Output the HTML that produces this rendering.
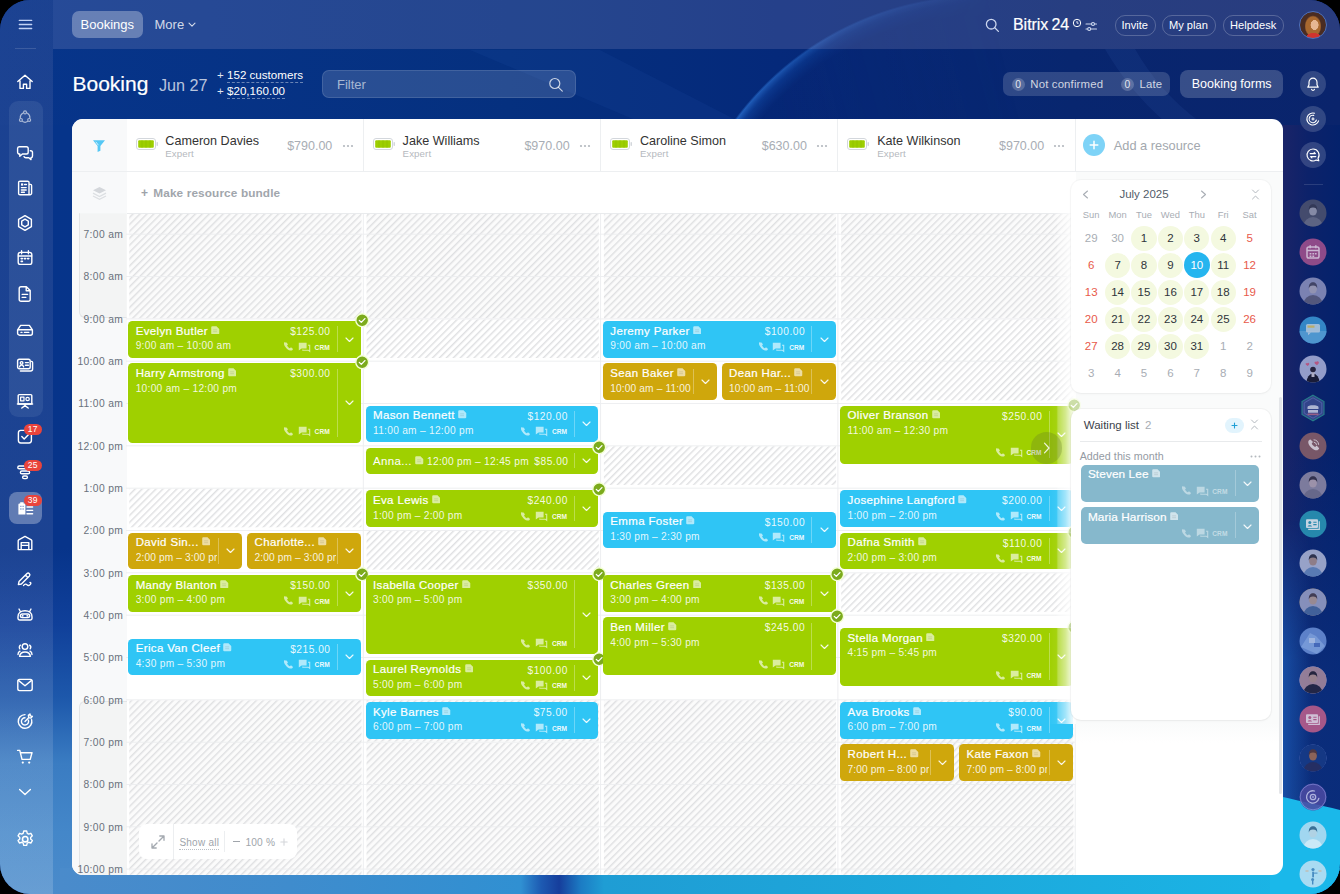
<!DOCTYPE html>
<html><head><meta charset="utf-8"><title>Booking</title>
<style>
html,body{margin:0;padding:0;background:#000;}
body{width:1340px;height:894px;overflow:hidden;position:relative;font-family:"Liberation Sans", sans-serif;}
#win{position:absolute;left:0;top:0;width:1340px;height:894px;border-radius:30px;overflow:hidden;background:#0b3389;}
#win div, #win svg{box-sizing:content-box;}
</style></head><body><div id="win">
<div style="position:absolute;left:0.0px;top:0.0px;width:1340.0px;height:130.0px;background:linear-gradient(90deg,#07358b 0%,#05307f 38%,#05297a 58%,#08266f 80%,#0a246c 100%);border-radius:0px;"></div>
<div style="position:absolute;left:0.0px;top:125.0px;width:80.0px;height:769.0px;background:linear-gradient(180deg,#06348a 0%,#07348a 55%,#10409a 65%,#1d58ab 74.500%,#3a7cc2 83%,#4487c9 92%,#4a8bcb 100%);border-radius:0px;"></div>
<div style="position:absolute;left:1270.0px;top:125.0px;width:70.0px;height:769.0px;background:linear-gradient(90deg,#1a2468 0%,#1a2468 20%,#0c226a 55%,#04226c 100%);border-radius:0px;"></div>
<div style="position:absolute;left:1270.0px;top:125.0px;width:70.0px;height:769.0px;background:linear-gradient(180deg,rgba(11,48,128,0) 0%,rgba(11,48,128,0) 42%,rgba(11,48,128,.75) 75%,rgba(11,48,128,.75) 100%);border-radius:0px;"></div>
<div style="position:absolute;left:60.0px;top:868.0px;width:1280.0px;height:26.0px;background:linear-gradient(90deg,#4a8bcb 0%,#3f8ccd 18%,#3090d2 36%,#1d5ab2 37.600%,#163e9c 39%,#1c7cc4 40.700%,#1f9dd4 42.500%,#1da9dc 70%,#1ab6e7 100%);border-radius:0px;"></div>
<svg style="position:absolute;left:0.0px;top:0.0px;" width="1340" height="894" viewBox="0 0 1340 894" fill="none">
    <defs>
      <radialGradient id="arc" cx="980" cy="300" r="305" gradientUnits="userSpaceOnUse">
        <stop offset="0" stop-color="#0a1f66" stop-opacity=".28"/>
        <stop offset=".93" stop-color="#0a1f66" stop-opacity=".28"/>
        <stop offset=".972" stop-color="#1a58b8" stop-opacity=".4"/>
        <stop offset=".993" stop-color="#2a70d0" stop-opacity=".85"/>
        <stop offset="1" stop-color="#2a70d0" stop-opacity="0"/>
      </radialGradient>
      <linearGradient id="arcfade" x1="700" y1="120" x2="1000" y2="40" gradientUnits="userSpaceOnUse">
        <stop offset="0" stop-color="#fff" stop-opacity="1"/><stop offset=".3" stop-color="#fff" stop-opacity=".7"/><stop offset=".5" stop-color="#fff" stop-opacity=".4"/><stop offset=".8" stop-color="#fff" stop-opacity=".2"/><stop offset="1.15" stop-color="#fff" stop-opacity="0"/>
      </linearGradient>
      <mask id="am"><rect x="0" y="0" width="1340" height="130" fill="url(#arcfade)"/></mask>
      <linearGradient id="rb" x1="1283" y1="0" x2="1312" y2="0" gradientUnits="userSpaceOnUse">
        <stop offset="0" stop-color="#1b5cb6" stop-opacity=".7"/><stop offset="1" stop-color="#1b5cb6" stop-opacity="0"/>
      </linearGradient>
      <linearGradient id="rbv" x1="0" y1="520" x2="0" y2="800" gradientUnits="userSpaceOnUse">
        <stop offset="0" stop-color="#fff" stop-opacity="0"/><stop offset=".5" stop-color="#fff" stop-opacity="1"/><stop offset="1" stop-color="#fff" stop-opacity="1"/>
      </linearGradient>
      <mask id="rm"><rect x="1270" y="500" width="70" height="320" fill="url(#rbv)"/></mask>
    </defs>
    <g mask="url(#am)"><circle cx="980" cy="300" r="305" fill="url(#arc)"/></g>
    <path d="M470 50 L600 50 L740 122 L640 122 Z" fill="#2a5cb5" opacity=".12"/><path d="M1105 49 L1135 49 C1150 75 1170 100 1200 122 L1165 122 C1140 100 1120 75 1105 49Z" fill="#3a62b8" opacity=".13"/>
    <g mask="url(#rm)"><rect x="1283" y="500" width="30" height="320" fill="url(#rb)"/></g>
    <path d="M1270 794 C1295 800 1320 805 1340 810 L1340 894 L1270 894 Z" fill="#1ab8ea"/>
    </svg>
<div style="position:absolute;left:0.0px;top:0.0px;width:53.0px;height:894.0px;background:linear-gradient(180deg,rgba(190,170,200,.115) 0%,rgba(200,190,215,.11) 65%,rgba(255,255,255,.16) 100%);border-radius:0px;"></div>
<svg style="position:absolute;left:18.0px;top:18.0px;" width="16" height="13" viewBox="0 0 16 13" fill="none"><path d="M1.300 2.400h12.400M1.300 6.500h12.400M1.300 10.500h12.400" stroke="#c3d3f5" stroke-width="1.300" stroke-linecap="round"/></svg>
<div style="position:absolute;left:15.0px;top:48.0px;width:21.0px;height:1.0px;background:rgba(255,255,255,.14);border-radius:0px;"></div>
<div style="position:absolute;left:9.0px;top:101.0px;width:33.5px;height:316.0px;background:rgba(255,255,255,.075);border-radius:9px;"></div>
<div style="position:absolute;left:9.0px;top:491.5px;width:33.0px;height:32.0px;background:rgba(255,255,255,.3);border-radius:8px;"></div>
<svg style="position:absolute;left:16.3px;top:72.9px;" width="18" height="18" viewBox="0 0 18 18" fill="none"><path d="M1.8 8.6 9 2.2l7.2 6.4M4 7.4V15.4h3.4v-4.2h3.2v4.2H14V7.4" stroke="#fff" stroke-width="1.4" stroke-linecap="round" stroke-linejoin="round"/></svg>
<svg style="position:absolute;left:16.3px;top:108.3px;" width="18" height="18" viewBox="0 0 18 18" fill="none"><g opacity=".6" transform="translate(1.300 1.300) scale(.86)" stroke="#fff" stroke-width="1.4" stroke-linecap="round" stroke-linejoin="round"><path d="M6.3 4.6A5.6 5.6 0 0 0 3.5 10M11.8 4.5a5.6 5.6 0 0 1 2.8 5.3M6.2 14.3a5.6 5.6 0 0 0 5.6 0"/><circle cx="9" cy="3.6" r="1.7"/><circle cx="4.2" cy="12.4" r="1.7"/><circle cx="13.8" cy="12.4" r="1.7"/></g></svg>
<svg style="position:absolute;left:16.3px;top:143.8px;" width="18" height="18" viewBox="0 0 18 18" fill="none"><path d="M3.2 2.8h7.2a1.8 1.8 0 0 1 1.8 1.8v3.6a1.8 1.8 0 0 1-1.8 1.8H6.4L3.8 12.2V10A1.8 1.8 0 0 1 1.6 8.2V4.6a1.8 1.8 0 0 1 1.6-1.8zM8 12.6c.3.8 1 1.2 1.8 1.2h3l2.2 1.8v-1.9a1.8 1.8 0 0 0 1.5-1.8V8.6a1.8 1.8 0 0 0-1.8-1.8h-.4" stroke="#fff" stroke-width="1.4" stroke-linecap="round" stroke-linejoin="round"/></svg>
<svg style="position:absolute;left:16.3px;top:178.9px;" width="18" height="18" viewBox="0 0 18 18" fill="none"><path d="M4 2.2h7.6a1.4 1.4 0 0 1 1.4 1.4v12.2H4a1.4 1.4 0 0 1-1.4-1.4V3.6A1.4 1.4 0 0 1 4 2.2zM13 5.4h1.6a1 1 0 0 1 1 1v7.9a1.5 1.5 0 0 1-1.5 1.5H13M5.4 8.6h4.8M5.4 11h4.8M5.4 13.2h3" stroke="#fff" stroke-width="1.4" stroke-linecap="round" stroke-linejoin="round"/><rect x="5" y="4.4" width="2.2" height="2.2" fill="#fff"/><path d="M8.6 5.5h1.8" stroke="#fff" stroke-width="1.4" stroke-linecap="round" stroke-linejoin="round"/></svg>
<svg style="position:absolute;left:16.3px;top:214.2px;" width="18" height="18" viewBox="0 0 18 18" fill="none"><path d="M9 1.6l6.4 3.7v7.4L9 16.4l-6.4-3.7V5.3zM9 5.2l3.3 1.9v3.8L9 12.8l-3.3-1.9V7.1z" stroke="#fff" stroke-width="1.4" stroke-linecap="round" stroke-linejoin="round"/></svg>
<svg style="position:absolute;left:16.3px;top:248.9px;" width="18" height="18" viewBox="0 0 18 18" fill="none"><rect x="2.2" y="3.4" width="13.6" height="12" rx="2.2" stroke="#fff" stroke-width="1.4" stroke-linecap="round" stroke-linejoin="round"/><path d="M5.6 1.8v3M12.4 1.8v3M2.4 7h13.2" stroke="#fff" stroke-width="1.4" stroke-linecap="round" stroke-linejoin="round"/><path d="M5.2 9.6h1.2M8.4 9.6h1.2M11.6 9.6h1.2M5.2 12.4h1.2" stroke="#fff" stroke-width="1.6" stroke-linecap="round" stroke-linejoin="round"/></svg>
<svg style="position:absolute;left:16.3px;top:285.4px;" width="18" height="18" viewBox="0 0 18 18" fill="none"><path d="M5 1.8h5.4l3.8 3.8v8.8a1.8 1.8 0 0 1-1.8 1.8H5a1.8 1.8 0 0 1-1.8-1.8V3.6A1.8 1.8 0 0 1 5 1.8zM10.2 2v3.8h3.8M6.2 9.4h5.4M6.2 12.4h3.6" stroke="#fff" stroke-width="1.4" stroke-linecap="round" stroke-linejoin="round"/></svg>
<svg style="position:absolute;left:16.3px;top:321.2px;" width="18" height="18" viewBox="0 0 18 18" fill="none"><path d="M4.6 4.4h8.8l3 4.4v3.4a2 2 0 0 1-2 2H3.6a2 2 0 0 1-2-2V8.8zM1.8 8.8h14.4M5 11.4h1M8.4 11.4h4.4" stroke="#fff" stroke-width="1.4" stroke-linecap="round" stroke-linejoin="round"/></svg>
<svg style="position:absolute;left:16.3px;top:356.4px;" width="18" height="18" viewBox="0 0 18 18" fill="none"><rect x="1.6" y="3.2" width="12.6" height="9.6" rx="1.8" stroke="#fff" stroke-width="1.4" stroke-linecap="round" stroke-linejoin="round"/><path d="M15.4 5.4h.2a1 1 0 0 1 1 1V13a2 2 0 0 1-2 2H4.4" stroke="#fff" stroke-width="1.4" stroke-linecap="round" stroke-linejoin="round"/><circle cx="5.6" cy="6.9" r="1.3" stroke="#fff" stroke-width="1.4" stroke-linecap="round" stroke-linejoin="round"/><path d="M3.6 10.8c.2-1.2 1-1.7 2-1.7s1.8.5 2 1.7M9.4 6.6h3M9.4 9.2h3" stroke="#fff" stroke-width="1.4" stroke-linecap="round" stroke-linejoin="round"/></svg>
<svg style="position:absolute;left:16.3px;top:392.2px;" width="18" height="18" viewBox="0 0 18 18" fill="none"><rect x="2.2" y="2.6" width="13.6" height="9.4" rx="1" stroke="#fff" stroke-width="1.4" stroke-linecap="round" stroke-linejoin="round"/><path d="M1.4 12h15.2M9 12v1.6M5.8 16l3.2-2.4 3.2 2.4" stroke="#fff" stroke-width="1.4" stroke-linecap="round" stroke-linejoin="round"/><rect x="4.6" y="5.2" width="3.4" height="3.6" stroke="#fff" stroke-width="1.2" stroke-linecap="round" stroke-linejoin="round"/><circle cx="11.6" cy="7" r="1.7" stroke="#fff" stroke-width="1.2" stroke-linecap="round" stroke-linejoin="round"/></svg>
<svg style="position:absolute;left:16.3px;top:427.3px;" width="18" height="18" viewBox="0 0 18 18" fill="none"><rect x="2.4" y="3.4" width="13" height="12.6" rx="2.4" stroke="#fff" stroke-width="1.4" stroke-linecap="round" stroke-linejoin="round"/><path d="M5.8 9.6l2.4 2.4 4.4-4.6" stroke="#fff" stroke-width="1.4" stroke-linecap="round" stroke-linejoin="round"/></svg>
<svg style="position:absolute;left:16.3px;top:463.0px;" width="18" height="18" viewBox="0 0 18 18" fill="none"><rect x="1.8" y="3" width="14.4" height="2.8" rx="1.4" stroke="#fff" stroke-width="1.4" stroke-linecap="round" stroke-linejoin="round"/><rect x="4.4" y="8" width="9.2" height="2.8" rx="1.4" stroke="#fff" stroke-width="1.4" stroke-linecap="round" stroke-linejoin="round"/><rect x="6.6" y="13" width="4.8" height="2.6" rx="1.3" stroke="#fff" stroke-width="1.4" stroke-linecap="round" stroke-linejoin="round"/></svg>
<svg style="position:absolute;left:16.3px;top:498.5px;" width="18" height="18" viewBox="0 0 18 18" fill="none"><path d="M2.4 15.6V5.6a1 1 0 0 1 1-1h.8V3.2h3.4v1.4h.8a1 1 0 0 1 1 1v10z" fill="#fff"/><path d="M4.4 7.4h1M6.6 7.4h1M4.4 10h1M6.6 10h1" stroke="#5d7fbf" stroke-width="1.3"/><path d="M11 8h5.6M11 11.4h5.6M11 14.8h5.6" stroke="#fff" stroke-width="1.4" stroke-linecap="round" stroke-linejoin="round"/></svg>
<svg style="position:absolute;left:16.3px;top:534.3px;" width="18" height="18" viewBox="0 0 18 18" fill="none"><path d="M2.2 15.6V6.8a1 1 0 0 1 .5-.9L9 2.4l6.3 3.5a1 1 0 0 1 .5.9v8.8zM5.2 15.4V8.6h7.6v6.8M5.2 11.4h7.6" stroke="#fff" stroke-width="1.4" stroke-linecap="round" stroke-linejoin="round"/></svg>
<svg style="position:absolute;left:16.3px;top:570.3px;" width="18" height="18" viewBox="0 0 18 18" fill="none"><path d="M3 11.6l-.6 3 3-.6 8-8a1.7 1.7 0 0 0-2.4-2.4zM9.6 5.2l2.4 2.4M7.6 15.4c1.4-1.6 2.4-1.6 3.4-.6s2.200 1 3.400-.4c.8-1 .4-2-.4-2" stroke="#fff" stroke-width="1.4" stroke-linecap="round" stroke-linejoin="round"/></svg>
<svg style="position:absolute;left:16.3px;top:605.0px;" width="18" height="18" viewBox="0 0 18 18" fill="none"><path d="M2 11.800c0-3.800 3-6 7-6s7 2.200 7 6v1.400a1.800 1.800 0 0 1-1.800 1.800H3.800A1.800 1.800 0 0 1 2 13.200zM4.600 7l-1.600-3M13.400 7l1.600-3" stroke="#fff" stroke-width="1.4" stroke-linecap="round" stroke-linejoin="round"/><rect x="4.400" y="9" width="9.200" height="3.600" rx="1.800" stroke="#fff" stroke-width="1.4" stroke-linecap="round" stroke-linejoin="round"/><path d="M6.600 10.800h.2M11.200 10.800h.2" stroke="#fff" stroke-width="1.7" stroke-linecap="round" stroke-linejoin="round"/></svg>
<svg style="position:absolute;left:16.3px;top:641.0px;" width="18" height="18" viewBox="0 0 18 18" fill="none"><circle cx="9" cy="5.600" r="2.800" stroke="#fff" stroke-width="1.4" stroke-linecap="round" stroke-linejoin="round"/><path d="M3.600 15.400c.4-3 2.600-4.400 5.400-4.400s5 1.400 5.400 4.400zM4.400 4.200c-1.200.8-1.400 2.400-.6 3.600M2 13.600c0-1.600.8-2.800 2-3.400M13.600 4.200c1.200.8 1.400 2.400.6 3.600M16 13.600c0-1.600-.8-2.800-2-3.400" stroke="#fff" stroke-width="1.4" stroke-linecap="round" stroke-linejoin="round"/></svg>
<svg style="position:absolute;left:16.3px;top:676.1px;" width="18" height="18" viewBox="0 0 18 18" fill="none"><rect x="1.800" y="3.400" width="14.400" height="11.200" rx="1.800" stroke="#fff" stroke-width="1.4" stroke-linecap="round" stroke-linejoin="round"/><path d="M2.400 4.400l6.600 5.400 6.600-5.400" stroke="#fff" stroke-width="1.4" stroke-linecap="round" stroke-linejoin="round"/></svg>
<svg style="position:absolute;left:16.3px;top:711.5px;" width="18" height="18" viewBox="0 0 18 18" fill="none"><path d="M9 2.600a6.800 6.800 0 1 0 6.600 5M9 5.800a3.600 3.600 0 1 0 3.400 2.400M9 9.400l3.600-3.600M12.400 3.400l.4 2.200 2.200.4 1.400-1.600-2-.6-.4-1.800z" stroke="#fff" stroke-width="1.4" stroke-linecap="round" stroke-linejoin="round"/></svg>
<svg style="position:absolute;left:16.3px;top:747.6px;" width="18" height="18" viewBox="0 0 18 18" fill="none"><path d="M1.600 2.400h2.200l2.200 9h8.200l1.800-6.600H4.800" stroke="#fff" stroke-width="1.4" stroke-linecap="round" stroke-linejoin="round"/><circle cx="6.800" cy="14.600" r="1.100" fill="#fff"/><circle cx="13.200" cy="14.600" r="1.100" fill="#fff"/></svg>
<svg style="position:absolute;left:16.3px;top:783.4px;" width="18" height="18" viewBox="0 0 18 18" fill="none"><path d="M3.600 6.600l5.400 5 5.400-5" stroke="#fff" stroke-width="1.4" stroke-linecap="round" stroke-linejoin="round"/></svg>
<svg style="position:absolute;left:15.1px;top:829.2px;" width="20.4" height="20.4" viewBox="0 0 18 18" fill="none"><path stroke-width="1.2" d="M7.700 1.800h2.600l.5 2 1.300.7 1.900-.7 1.300 2.200-1.500 1.400v1.400l1.500 1.400-1.300 2.200-1.900-.7-1.300.7-.5 2H7.700l-.5-2-1.300-.7-1.900.7-1.300-2.200 1.500-1.400V7.400L2.700 6l1.300-2.200 1.900.7 1.300-.7z" stroke="#fff" stroke-width="1.4" stroke-linecap="round" stroke-linejoin="round"/><circle cx="9" cy="9" r="2.400" stroke="#fff" stroke-width="1.4" stroke-linecap="round" stroke-linejoin="round"/></svg>
<div style="position:absolute;left:24px;top:424px;width:17.5px;height:11px;border-radius:6px;background:#e9443c;color:#fff;font-size:8.5px;line-height:11px;text-align:center;font-weight:400;letter-spacing:.2px">17</div>
<div style="position:absolute;left:24px;top:459.5px;width:17.5px;height:11px;border-radius:6px;background:#e9443c;color:#fff;font-size:8.5px;line-height:11px;text-align:center;font-weight:400;letter-spacing:.2px">25</div>
<div style="position:absolute;left:24px;top:494.5px;width:17.5px;height:11px;border-radius:6px;background:#e9443c;color:#fff;font-size:8.5px;line-height:11px;text-align:center;font-weight:400;letter-spacing:.2px">39</div>
<div style="position:absolute;left:53.0px;top:0.0px;width:1287.0px;height:49.0px;background:rgba(222,202,234,.15);border-radius:0px;"></div>
<div style="position:absolute;left:72.0px;top:11.0px;width:70.5px;height:27.0px;background:rgba(255,255,255,.3);border-radius:7px;"></div>
<div style="position:absolute;top:16.2px;line-height:17px;font-size:13px;color:#fff;white-space:nowrap;left:80.5px;">Bookings</div>
<div style="position:absolute;top:16.2px;line-height:17px;font-size:13px;color:rgba(255,255,255,.8);white-space:nowrap;left:154.5px;">More</div>
<svg style="position:absolute;left:187.5px;top:22.0px;" width="8" height="6" viewBox="0 0 8 6" fill="none"><path d="M1 1.200l3 3 3-3" stroke="rgba(255,255,255,.8)" stroke-width="1.100" stroke-linecap="round" stroke-linejoin="round"/></svg>
<svg style="position:absolute;left:985.0px;top:18.0px;" width="15" height="15" viewBox="0 0 15 15" fill="none"><circle cx="6.200" cy="6.200" r="4.800" stroke="#ccd6ee" stroke-width="1.300"/><path d="M9.800 9.800l3.600 3.600" stroke="#ccd6ee" stroke-width="1.300" stroke-linecap="round"/></svg>
<div style="position:absolute;top:14.3px;line-height:21px;font-size:16px;color:#fff;white-space:nowrap;letter-spacing:-0.05px;left:1013.0px;-webkit-text-stroke:.2px #fff;word-spacing:-1.200px;">Bitrix 24</div>
<svg style="position:absolute;left:1071.5px;top:18.0px;" width="10" height="10" viewBox="0 0 10 10" fill="none"><circle cx="5" cy="5" r="3.700" stroke="#fff" stroke-width="1"/><path d="M5 3v2.200h1.600" stroke="#fff" stroke-width=".9"/></svg>
<svg style="position:absolute;left:1085.0px;top:21.0px;" width="13" height="11" viewBox="0 0 13 11" fill="none"><g stroke="#cfd8ee" stroke-width="1.100" stroke-linecap="round"><path d="M1 3h10.500M1 8h10.500"/><circle cx="8" cy="3" r="1.500" fill="#27488f"/><circle cx="4.200" cy="8" r="1.500" fill="#27488f"/></g></svg>
<div style="position:absolute;left:1114.5px;top:14.5px;width:39.5px;height:19.0px;background:transparent;border-radius:10px;border:1px solid rgba(255,255,255,.22);"></div>
<div style="position:absolute;top:17.8px;line-height:14px;font-size:11.1px;color:#fff;white-space:nowrap;left:1121.5px;">Invite</div>
<div style="position:absolute;left:1162.0px;top:14.5px;width:52.0px;height:19.0px;background:transparent;border-radius:10px;border:1px solid rgba(255,255,255,.22);"></div>
<div style="position:absolute;top:17.8px;line-height:14px;font-size:11.1px;color:#fff;white-space:nowrap;left:1169.0px;">My plan</div>
<div style="position:absolute;left:1223.0px;top:14.5px;width:59.0px;height:19.0px;background:transparent;border-radius:10px;border:1px solid rgba(255,255,255,.22);"></div>
<div style="position:absolute;top:17.8px;line-height:14px;font-size:11.1px;color:#fff;white-space:nowrap;left:1230.0px;">Helpdesk</div>
<div style="position:absolute;left:1299px;top:10.500px;width:28px;height:28px;border-radius:50%;box-sizing:border-box;border:1.500px solid #4c72c0;background:radial-gradient(ellipse 7px 4px at 52% 96%,#d0342e 0 95%,transparent 100%),radial-gradient(ellipse 4.200px 5.200px at 56% 50%,#e6b692 0 90%,transparent 100%),radial-gradient(ellipse 8.500px 11px at 50% 55%,#a8682f 0 85%,transparent 100%),#4a2c22;"></div>
<div style="position:absolute;top:69.8px;line-height:28px;font-size:21px;color:#fff;white-space:nowrap;left:72.5px;-webkit-text-stroke:.2px #fff;">Booking</div>
<div style="position:absolute;top:74.0px;line-height:22px;font-size:16.2px;color:rgba(255,255,255,.72);white-space:nowrap;left:159.0px;">Jun 27</div>
<div style="position:absolute;top:67.5px;line-height:15px;font-size:11.5px;color:rgba(255,255,255,.9);white-space:nowrap;left:217.0px;">+</div>
<div style="position:absolute;top:67.5px;line-height:15px;font-size:11.6px;color:#fff;white-space:nowrap;left:227.0px;border-bottom:1px dashed rgba(255,255,255,.4);line-height:14px;top:67.500px;">152 customers</div>
<div style="position:absolute;top:83.8px;line-height:15px;font-size:11.5px;color:rgba(255,255,255,.9);white-space:nowrap;left:217.0px;">+</div>
<div style="position:absolute;top:83.8px;line-height:15px;font-size:11.6px;color:#fff;white-space:nowrap;left:227.0px;border-bottom:1px dashed rgba(255,255,255,.4);line-height:14px;top:83.800px;">$20,160.00</div>
<div style="position:absolute;left:322.0px;top:69.5px;width:253.0px;height:27.5px;background:rgba(255,255,255,.14);border-radius:7px;border:1px solid rgba(255,255,255,.12);box-sizing:border-box;width:254px;height:28.500px;"></div>
<div style="position:absolute;top:75.5px;line-height:17px;font-size:13px;color:rgba(255,255,255,.6);white-space:nowrap;left:337.0px;">Filter</div>
<svg style="position:absolute;left:548.0px;top:77.0px;" width="16" height="16" viewBox="0 0 16 16" fill="none"><circle cx="6.800" cy="6.500" r="5" stroke="rgba(255,255,255,.75)" stroke-width="1.200"/><path d="M10.500 10.300l3.800 3.800" stroke="rgba(255,255,255,.75)" stroke-width="1.200" stroke-linecap="round"/></svg>
<div style="position:absolute;left:1003.0px;top:72.3px;width:167.0px;height:23.6px;background:rgba(255,255,255,.16);border-radius:7px;"></div>
<div style="position:absolute;left:1011.5px;top:77.7px;width:13.0px;height:13.0px;background:rgba(255,255,255,.2);border-radius:7px;"></div>
<div style="position:absolute;top:77.8px;line-height:13px;font-size:10.3px;color:rgba(255,255,255,.85);white-space:nowrap;left:918.0px;width:200px;text-align:center;">0</div>
<div style="position:absolute;top:76.8px;line-height:15px;font-size:11.4px;color:rgba(255,255,255,.78);white-space:nowrap;letter-spacing:0.15px;left:1030.3px;">Not confirmed</div>
<div style="position:absolute;left:1120.8px;top:77.7px;width:13.0px;height:13.0px;background:rgba(255,255,255,.2);border-radius:7px;"></div>
<div style="position:absolute;top:77.8px;line-height:13px;font-size:10.3px;color:rgba(255,255,255,.85);white-space:nowrap;left:1027.3px;width:200px;text-align:center;">0</div>
<div style="position:absolute;top:76.8px;line-height:15px;font-size:11.4px;color:rgba(255,255,255,.78);white-space:nowrap;letter-spacing:0.15px;left:1139.5px;">Late</div>
<div style="position:absolute;left:1180.4px;top:70.0px;width:103.0px;height:28.4px;background:rgba(255,255,255,.19);border-radius:8px;"></div>
<div style="position:absolute;top:76.3px;line-height:16px;font-size:12.5px;color:#fff;white-space:nowrap;left:1191.7px;">Booking forms</div>
<div style="position:absolute;left:1300.1px;top:70.5px;width:26.0px;height:26.0px;background:rgba(255,255,255,.16);border-radius:13px;"></div>
<div style="position:absolute;left:1300.1px;top:106.3px;width:26.0px;height:26.0px;background:rgba(255,255,255,.16);border-radius:13px;"></div>
<div style="position:absolute;left:1300.1px;top:142.1px;width:26.0px;height:26.0px;background:rgba(255,255,255,.16);border-radius:13px;"></div>
<svg style="position:absolute;left:1305.1px;top:75.5px;" width="16" height="16" viewBox="0 0 16 16" fill="none"><path d="M8 2.200a4 4 0 0 1 4 4v2.600l1.200 2.400H2.800L4 8.800V6.200a4 4 0 0 1 4-4zM6.600 13.400a1.500 1.500 0 0 0 2.800 0" stroke="#fff" stroke-width="1.200" stroke-linejoin="round" stroke-linecap="round"/></svg>
<svg style="position:absolute;left:1305.1px;top:111.3px;" width="16" height="16" viewBox="0 0 16 16" fill="none"><g stroke="#fff" stroke-width="1.100" stroke-linecap="round"><path d="M13.600 9.800A6 6 0 1 1 9.600 2.200"/><path d="M11.400 9A3.700 3.700 0 1 1 8.800 4.400"/><path d="M8 6.400l.5 1.100 1.100.5-1.100.5L8 9.600l-.5-1.100-1.100-.5 1.100-.5z" fill="#fff" stroke-width=".4"/></g></svg>
<svg style="position:absolute;left:1305.1px;top:147.1px;" width="16" height="16" viewBox="0 0 16 16" fill="none"><g stroke="#fff" stroke-width="1.150" stroke-linecap="round" stroke-linejoin="round"><path d="M8 2a6 6 0 1 0 3.200 11.100l2.600.7-.8-2.400A6 6 0 0 0 8 2z"/><path d="M5.200 6.600h5.200l-1.300-1.300M10.800 9.600H5.600l1.300 1.300"/></g></svg>
<div style="position:absolute;left:1303.5px;top:183.5px;width:19.0px;height:1.0px;background:rgba(255,255,255,.13);border-radius:0px;"></div>
<svg style="position:absolute;left:1299.1px;top:199.0px;opacity:.86;" width="28" height="28" viewBox="0 0 28 28" fill="none"><clipPath id="cp7"><circle cx="14" cy="14" r="13.5"/></clipPath><g clip-path="url(#cp7)"><rect width="28" height="28" fill="#4d526e"/><ellipse cx="14" cy="27" rx="9.500" ry="9" fill="#6b6f88"/><ellipse cx="14" cy="12" rx="3.900" ry="4.600" fill="#9a9cb0"/><path d="M9.800 11.500c-.3-4.500 2-6.200 4.200-6.200s4.600 1.700 4.200 6.200c-.6-2-1.500-3-4.200-3s-3.600 1-4.200 3z" fill="#3a3d55"/></g></svg>
<svg style="position:absolute;left:1299.1px;top:237.9px;opacity:.86;" width="28" height="28" viewBox="0 0 28 28" fill="none"><circle cx="14" cy="14" r="13.500" fill="#a5528e"/><g stroke="#ecd0e4" stroke-width="1.500" fill="none"><rect x="8" y="9" width="12" height="11" rx="1.800"/><path d="M8 12.600h12M11.200 7.200v3M16.800 7.200v3"/></g><path d="M10.600 15h1.800v1.600h-1.800zM13.400 15h1.800v1.600h-1.800zM16 15h1.600v1.600H16zM10.600 17.400h1.800V19h-1.800zM13.400 17.400h1.800V19h-1.800z" fill="#ecd0e4"/></svg>
<svg style="position:absolute;left:1299.1px;top:276.8px;opacity:.86;" width="28" height="28" viewBox="0 0 28 28" fill="none"><clipPath id="cp7"><circle cx="14" cy="14" r="13.5"/></clipPath><g clip-path="url(#cp7)"><rect width="28" height="28" fill="#8d92be"/><ellipse cx="14" cy="27" rx="9.500" ry="9" fill="#5f6080"/><ellipse cx="14" cy="12" rx="3.900" ry="4.600" fill="#a9a6bd"/><path d="M9.800 11.500c-.3-4.500 2-6.200 4.200-6.200s4.600 1.700 4.200 6.200c-.6-2-1.500-3-4.200-3s-3.600 1-4.200 3z" fill="#4a4a66"/></g></svg>
<svg style="position:absolute;left:1299.1px;top:315.7px;opacity:.86;" width="28" height="28" viewBox="0 0 28 28" fill="none"><circle cx="14" cy="14" r="13.500" fill="#3b97d6"/><clipPath id="c4"><circle cx="14" cy="14" r="13.500"/></clipPath><g clip-path="url(#c4)"><rect x="0" y="15" width="28" height="14" fill="#5aa9e0"/><rect x="7" y="8" width="14" height="8.500" rx="1.500" fill="#cfe0ee" opacity=".85"/><rect x="8.500" y="9.500" width="7" height="2.200" fill="#d8c46a"/><path d="M9 16.500v2.800l3-2.800" fill="#cfe0ee" opacity=".85"/></g></svg>
<svg style="position:absolute;left:1299.1px;top:354.6px;opacity:.86;" width="28" height="28" viewBox="0 0 28 28" fill="none"><circle cx="14" cy="14" r="13.500" fill="#a9b1d9"/><clipPath id="c5"><circle cx="14" cy="14" r="13.500"/></clipPath><g clip-path="url(#c5)"><ellipse cx="14" cy="27.500" rx="6.500" ry="9" fill="#1c1c30"/><rect x="12.500" y="17" width="3" height="5" fill="#c9c4d4"/><circle cx="14" cy="14.500" r="2.800" fill="#2a2438"/><path d="M8 8.500c1-1.500 3-.5 2 1.200L8.700 11 7 9.800c-1-1.500.5-2.500 1-1.300zM17 7c1.200-1.800 3.800-.6 2.600 1.600L18 10.200l-2-1.400c-1.300-1.900.4-3.200 1-1.800z" fill="#d06088"/></g></svg>
<svg style="position:absolute;left:1299.1px;top:393.5px;opacity:.86;" width="28" height="28" viewBox="0 0 28 28" fill="none"><path d="M14 1.200l11 6.400v12.800L14 26.800 3 20.400V7.600z" fill="#3a4a90" stroke="#2b8b8f" stroke-width="1.100"/><path d="M14 3.800l8.800 5.100v10.200L14 24.200l-8.800-5.100V8.900z" fill="none" stroke="#6f86c8" stroke-width=".6"/><path d="M8.500 13c0-2.500 11-2.500 11 0v2h-11zM9 16h10v2.800H9z" fill="#c8cce4"/><rect x="8.500" y="19.500" width="11" height="1.600" fill="#b0688a"/></svg>
<svg style="position:absolute;left:1299.1px;top:432.4px;opacity:.86;" width="28" height="28" viewBox="0 0 28 28" fill="none"><circle cx="14" cy="14" r="13.500" fill="#8a6068"/><path d="M9.800 8.600c-1 .9-.7 3.900 2.300 6.900s6 3.300 6.900 2.300l.9-.9c.3-.3.300-.7 0-1l-1.800-1.800c-.3-.3-.7-.3-1 0l-.9.900c-.9-.3-3.300-2.600-3.500-3.500l.9-.9c.3-.3.300-.7 0-1L11.700 7.800c-.3-.3-.7-.3-1 0z" fill="#eadde0"/><path d="M15 7.800a5 5 0 0 1 4.600 4.600M15.200 10.200a2.700 2.700 0 0 1 2.300 2.300" stroke="#eadde0" stroke-width="1" fill="none" stroke-linecap="round"/></svg>
<svg style="position:absolute;left:1299.1px;top:471.3px;opacity:.86;" width="28" height="28" viewBox="0 0 28 28" fill="none"><clipPath id="cp7"><circle cx="14" cy="14" r="13.5"/></clipPath><g clip-path="url(#cp7)"><rect width="28" height="28" fill="#8f8aa6"/><ellipse cx="14" cy="27" rx="9.500" ry="9" fill="#77748f"/><ellipse cx="14" cy="12" rx="3.900" ry="4.600" fill="#b4a4b4"/><path d="M9.800 11.500c-.3-4.500 2-6.200 4.200-6.200s4.600 1.700 4.200 6.200c-.6-2-1.500-3-4.200-3s-3.600 1-4.200 3z" fill="#3a3448"/></g></svg>
<svg style="position:absolute;left:1299.1px;top:510.2px;opacity:.86;" width="28" height="28" viewBox="0 0 28 28" fill="none"><circle cx="14" cy="14" r="13.500" fill="#2b99b7"/><rect x="7" y="9.200" width="12" height="8.800" rx="1" fill="#e4f2f6"/><path d="M20.300 11.200v8.200H9.200" stroke="#e4f2f6" stroke-width="1.200" fill="none"/><circle cx="10.800" cy="12.600" r="1.500" fill="#2b99b7"/><path d="M8.600 16.600c.3-1.800 4.100-1.800 4.400 0z" fill="#2b99b7"/><path d="M14.300 12.200h3.300M14.300 14.600h3.300" stroke="#2b99b7" stroke-width="1.100"/></svg>
<svg style="position:absolute;left:1299.1px;top:549.1px;opacity:.86;" width="28" height="28" viewBox="0 0 28 28" fill="none"><clipPath id="cp7"><circle cx="14" cy="14" r="13.5"/></clipPath><g clip-path="url(#cp7)"><rect width="28" height="28" fill="#aeb6d6"/><ellipse cx="14" cy="27" rx="9.500" ry="9" fill="#6688be"/><ellipse cx="14" cy="12" rx="3.900" ry="4.600" fill="#a48c8c"/><path d="M9.800 11.500c-.3-4.500 2-6.200 4.200-6.200s4.600 1.700 4.200 6.200c-.6-2-1.500-3-4.200-3s-3.600 1-4.200 3z" fill="#33344a"/></g></svg>
<svg style="position:absolute;left:1299.1px;top:588.0px;opacity:.86;" width="28" height="28" viewBox="0 0 28 28" fill="none"><circle cx="14" cy="14" r="13.500" fill="#25264c"/><circle cx="14" cy="14" r="13.100" fill="none" stroke="#7f7558" stroke-width=".8"/><clipPath id="cp7"><circle cx="14" cy="14" r="11.3"/></clipPath><g clip-path="url(#cp7)"><rect width="28" height="28" fill="#9aa0c6"/><ellipse cx="14" cy="27" rx="9.500" ry="9" fill="#4a6aa0"/><ellipse cx="14" cy="12" rx="3.900" ry="4.600" fill="#b09a98"/><path d="M9.800 11.500c-.3-4.500 2-6.200 4.200-6.200s4.600 1.700 4.200 6.200c-.6-2-1.500-3-4.200-3s-3.600 1-4.200 3z" fill="#4a4050"/></g></svg>
<svg style="position:absolute;left:1299.1px;top:626.9px;opacity:.86;" width="28" height="28" viewBox="0 0 28 28" fill="none"><circle cx="14" cy="14" r="13.500" fill="#6a8fd6"/><clipPath id="c12"><circle cx="14" cy="14" r="13.500"/></clipPath><g clip-path="url(#c12)"><path d="M2 20l9-14 6 3 9 10-8 8z" fill="#8fb0ea" opacity=".8"/><rect x="10" y="11" width="6" height="5" fill="#c4d4f4" opacity=".8"/><rect x="15" y="16" width="6" height="4" fill="#4f74c4"/></g></svg>
<svg style="position:absolute;left:1299.1px;top:665.8px;opacity:.86;" width="28" height="28" viewBox="0 0 28 28" fill="none"><circle cx="14" cy="14" r="13.500" fill="#5f6fbd"/><circle cx="14" cy="14" r="13.100" fill="none" stroke="#8f9fe0" stroke-width=".8"/><clipPath id="cp7"><circle cx="14" cy="14" r="11.3"/></clipPath><g clip-path="url(#cp7)"><rect width="28" height="28" fill="#a98a9c"/><ellipse cx="14" cy="27" rx="9.500" ry="9" fill="#26263f"/><ellipse cx="14" cy="12" rx="3.900" ry="4.600" fill="#b09090"/><path d="M9.800 11.500c-.3-4.500 2-6.200 4.200-6.200s4.600 1.700 4.200 6.200c-.6-2-1.500-3-4.200-3s-3.600 1-4.200 3z" fill="#2a2436"/></g></svg>
<svg style="position:absolute;left:1299.1px;top:704.7px;opacity:.86;" width="28" height="28" viewBox="0 0 28 28" fill="none"><circle cx="14" cy="14" r="13.500" fill="#bf5f8b"/><rect x="7" y="9.200" width="12" height="8.800" rx="1" fill="#f0d8e4"/><path d="M20.300 11.200v8.200H9.200" stroke="#f0d8e4" stroke-width="1.200" fill="none"/><circle cx="10.800" cy="12.600" r="1.500" fill="#bf5f8b"/><path d="M8.600 16.600c.3-1.800 4.100-1.800 4.400 0z" fill="#bf5f8b"/><path d="M14.300 12.200h3.300M14.300 14.600h3.300" stroke="#bf5f8b" stroke-width="1.100"/></svg>
<svg style="position:absolute;left:1299.1px;top:743.6px;opacity:.86;" width="28" height="28" viewBox="0 0 28 28" fill="none"><circle cx="14" cy="14" r="13.500" fill="#2f4898"/><circle cx="14" cy="14" r="13.100" fill="none" stroke="#6f88d0" stroke-width=".8"/><clipPath id="cp7"><circle cx="14" cy="14" r="11.3"/></clipPath><g clip-path="url(#cp7)"><rect width="28" height="28" fill="#173a86"/><ellipse cx="14" cy="27" rx="9.500" ry="9" fill="#2a2f60"/><ellipse cx="14" cy="12" rx="3.900" ry="4.600" fill="#a06c54"/><path d="M9.800 11.500c-.3-4.500 2-6.200 4.200-6.200s4.600 1.700 4.200 6.200c-.6-2-1.500-3-4.200-3s-3.600 1-4.200 3z" fill="#5a3a3a"/></g></svg>
<svg style="position:absolute;left:1299.1px;top:782.5px;opacity:.86;" width="28" height="28" viewBox="0 0 28 28" fill="none"><circle cx="14" cy="14" r="13.500" fill="#4b4aa2"/><circle cx="14" cy="14" r="12.800" fill="none" stroke="#7f7fd0" stroke-width="1"/><g stroke="#c9c9ee" stroke-width="1.300" fill="none" stroke-linecap="round"><path d="M19.800 15.500A6.200 6.200 0 1 1 15.500 8"/><circle cx="14" cy="14" r="2.700"/></g><path d="M14 12.600l.5 1 1 .4-1 .4-.5 1-.5-1-1-.4 1-.4z" fill="#c9c9ee"/></svg>
<svg style="position:absolute;left:1299.1px;top:821.4px;opacity:.95;" width="28" height="28" viewBox="0 0 28 28" fill="none"><clipPath id="cp7"><circle cx="14" cy="14" r="13.5"/></clipPath><g clip-path="url(#cp7)"><rect width="28" height="28" fill="#a9d9f1"/><ellipse cx="14" cy="27" rx="9.500" ry="9" fill="#d4ecf8"/><ellipse cx="14" cy="12" rx="3.900" ry="4.600" fill="#b9d4e4"/><path d="M9.800 11.500c-.3-4.500 2-6.200 4.200-6.200s4.600 1.700 4.200 6.200c-.6-2-1.500-3-4.200-3s-3.600 1-4.200 3z" fill="#3c6c92"/></g></svg>
<svg style="position:absolute;left:1299.1px;top:860.3px;opacity:.95;" width="28" height="28" viewBox="0 0 28 28" fill="none"><circle cx="14" cy="14" r="13.500" fill="#b1ddf3"/><g fill="#4a8ac0"><circle cx="14" cy="9.500" r="1.600"/><rect x="13.200" y="11.500" width="1.800" height="6" rx=".8"/><rect x="14.500" y="12.600" width="4" height="1" /><circle cx="13.600" cy="19.500" r="1.500"/><rect x="13" y="20.500" width="1.400" height="4"/></g><path d="M6.500 11h3M19.500 11h3" stroke="#d8b090" stroke-width="1.200"/></svg>
<div style="position:absolute;left:72.0px;top:119.2px;width:1211.2px;height:755.8px;background:#fff;border-radius:11px;"></div>
<div style="position:absolute;left:72px;top:119.2px;width:54.5px;height:755.8px;background:#f8f9fa;border-radius:11px 0 0 11px"></div>
<div style="position:absolute;left:78.6px;top:207.2px;width:48px;height:110.9px;background:#f3f4f4;border:1px solid #e3e5e7;border-top:none;border-right:none;box-sizing:border-box;border-radius:0 0 0 6px;clip-path:inset(6px 0 0 0)"></div>
<div style="position:absolute;left:78.6px;top:701.0px;width:48px;height:174.0px;background:#f3f4f4;border:1px solid #e3e5e7;border-right:none;border-bottom:none;box-sizing:border-box;border-radius:6px 0 0 5px"></div>
<svg style="position:absolute;left:126px;top:213.2px" width="1157.2" height="661.8" viewBox="0 0 1157.2 661.8"><defs><pattern id="ht" width="4.9" height="4.9" patternUnits="userSpaceOnUse" patternTransform="rotate(-45)"><rect x="0" y="0" width="4.9" height="1.45" fill="#dfe0e2"/></pattern></defs><rect x="3.3" y="0.0" width="232.2" height="105.4" fill="#fbfbfb"/><rect x="3.3" y="0.0" width="232.2" height="105.4" fill="url(#ht)"/><rect x="3.3" y="275.7" width="232.2" height="38.6" fill="url(#ht)"/><rect x="3.3" y="487.3" width="232.2" height="174.5" fill="#fbfbfb"/><rect x="3.3" y="487.3" width="232.2" height="174.5" fill="url(#ht)"/><rect x="240.6" y="0.0" width="232.2" height="105.4" fill="#fbfbfb"/><rect x="240.6" y="0.0" width="232.2" height="105.4" fill="url(#ht)"/><rect x="240.6" y="106.4" width="232.2" height="38.6" fill="url(#ht)"/><rect x="240.6" y="318.0" width="232.2" height="38.6" fill="url(#ht)"/><rect x="240.6" y="487.3" width="232.2" height="41.3" fill="#fbfbfb"/><rect x="240.6" y="487.3" width="232.2" height="41.3" fill="url(#ht)"/><rect x="240.6" y="529.7" width="232.2" height="132.1" fill="#fbfbfb"/><rect x="240.6" y="529.7" width="232.2" height="132.1" fill="url(#ht)"/><rect x="477.9" y="0.0" width="232.2" height="105.4" fill="#fbfbfb"/><rect x="477.9" y="0.0" width="232.2" height="105.4" fill="url(#ht)"/><rect x="477.9" y="233.3" width="232.2" height="38.6" fill="url(#ht)"/><rect x="477.9" y="487.3" width="232.2" height="174.5" fill="#fbfbfb"/><rect x="477.9" y="487.3" width="232.2" height="174.5" fill="url(#ht)"/><rect x="715.2" y="0.0" width="232.2" height="105.4" fill="#fbfbfb"/><rect x="715.2" y="0.0" width="232.2" height="105.4" fill="url(#ht)"/><rect x="715.2" y="106.4" width="232.2" height="81.0" fill="url(#ht)"/><rect x="715.2" y="360.3" width="232.2" height="38.6" fill="url(#ht)"/><rect x="715.2" y="487.3" width="232.2" height="174.5" fill="#fbfbfb"/><rect x="715.2" y="487.3" width="232.2" height="174.5" fill="url(#ht)"/><rect x="0" y="20.7" width="949.2" height="1" fill="#ebecee" opacity=".85"/><rect x="0" y="63.0" width="949.2" height="1" fill="#ebecee" opacity=".85"/><rect x="0" y="105.4" width="949.2" height="1" fill="#ebecee" opacity=".85"/><rect x="0" y="147.7" width="949.2" height="1" fill="#ebecee" opacity=".85"/><rect x="0" y="190.0" width="949.2" height="1" fill="#ebecee" opacity=".85"/><rect x="0" y="232.3" width="949.2" height="1" fill="#ebecee" opacity=".85"/><rect x="0" y="274.7" width="949.2" height="1" fill="#ebecee" opacity=".85"/><rect x="0" y="317.0" width="949.2" height="1" fill="#ebecee" opacity=".85"/><rect x="0" y="359.3" width="949.2" height="1" fill="#ebecee" opacity=".85"/><rect x="0" y="401.7" width="949.2" height="1" fill="#ebecee" opacity=".85"/><rect x="0" y="444.0" width="949.2" height="1" fill="#ebecee" opacity=".85"/><rect x="0" y="486.3" width="949.2" height="1" fill="#ebecee" opacity=".85"/><rect x="0" y="528.7" width="949.2" height="1" fill="#ebecee" opacity=".85"/><rect x="0" y="571.0" width="949.2" height="1" fill="#ebecee" opacity=".85"/><rect x="0" y="613.3" width="949.2" height="1" fill="#ebecee" opacity=".85"/><rect x="0" y="655.6" width="949.2" height="1" fill="#ebecee" opacity=".85"/><rect x="236.8" y="0" width="1" height="661.8" fill="#edeef0"/><rect x="474.1" y="0" width="1" height="661.8" fill="#edeef0"/><rect x="711.4" y="0" width="1" height="661.8" fill="#edeef0"/><rect x="948.7" y="0" width="1" height="661.8" fill="#edeef0"/></svg>
<div style="position:absolute;left:72.0px;top:171.0px;width:1211.2px;height:1.0px;background:#edeff1;border-radius:0px;"></div>
<div style="position:absolute;left:126.5px;top:212.7px;width:949.2px;height:1.0px;background:#e9ebed;border-radius:0px;"></div>
<div style="position:absolute;left:362.8px;top:119.2px;width:1.0px;height:51.8px;background:#edeff1;border-radius:0px;"></div>
<div style="position:absolute;left:600.1px;top:119.2px;width:1.0px;height:51.8px;background:#edeff1;border-radius:0px;"></div>
<div style="position:absolute;left:837.4px;top:119.2px;width:1.0px;height:51.8px;background:#edeff1;border-radius:0px;"></div>
<div style="position:absolute;left:1074.7px;top:119.2px;width:1.0px;height:51.8px;background:#edeff1;border-radius:0px;"></div>
<div style="position:absolute;top:227.9px;line-height:13px;font-size:10.3px;color:#69717c;white-space:nowrap;letter-spacing:0.35px;right:1216.8px;">7:00 am</div>
<div style="position:absolute;top:270.2px;line-height:13px;font-size:10.3px;color:#69717c;white-space:nowrap;letter-spacing:0.35px;right:1216.8px;">8:00 am</div>
<div style="position:absolute;top:312.6px;line-height:13px;font-size:10.3px;color:#69717c;white-space:nowrap;letter-spacing:0.35px;right:1216.8px;">9:00 am</div>
<div style="position:absolute;top:354.9px;line-height:13px;font-size:10.3px;color:#69717c;white-space:nowrap;letter-spacing:0.35px;right:1216.8px;">10:00 am</div>
<div style="position:absolute;top:397.2px;line-height:13px;font-size:10.3px;color:#69717c;white-space:nowrap;letter-spacing:0.35px;right:1216.8px;">11:00 am</div>
<div style="position:absolute;top:439.5px;line-height:13px;font-size:10.3px;color:#69717c;white-space:nowrap;letter-spacing:0.35px;right:1216.8px;">12:00 pm</div>
<div style="position:absolute;top:481.9px;line-height:13px;font-size:10.3px;color:#69717c;white-space:nowrap;letter-spacing:0.35px;right:1216.8px;">1:00 pm</div>
<div style="position:absolute;top:524.2px;line-height:13px;font-size:10.3px;color:#69717c;white-space:nowrap;letter-spacing:0.35px;right:1216.8px;">2:00 pm</div>
<div style="position:absolute;top:566.5px;line-height:13px;font-size:10.3px;color:#69717c;white-space:nowrap;letter-spacing:0.35px;right:1216.8px;">3:00 pm</div>
<div style="position:absolute;top:608.9px;line-height:13px;font-size:10.3px;color:#69717c;white-space:nowrap;letter-spacing:0.35px;right:1216.8px;">4:00 pm</div>
<div style="position:absolute;top:651.2px;line-height:13px;font-size:10.3px;color:#69717c;white-space:nowrap;letter-spacing:0.35px;right:1216.8px;">5:00 pm</div>
<div style="position:absolute;top:693.5px;line-height:13px;font-size:10.3px;color:#69717c;white-space:nowrap;letter-spacing:0.35px;right:1216.8px;">6:00 pm</div>
<div style="position:absolute;top:735.9px;line-height:13px;font-size:10.3px;color:#69717c;white-space:nowrap;letter-spacing:0.35px;right:1216.8px;">7:00 pm</div>
<div style="position:absolute;top:778.2px;line-height:13px;font-size:10.3px;color:#69717c;white-space:nowrap;letter-spacing:0.35px;right:1216.8px;">8:00 pm</div>
<div style="position:absolute;top:820.5px;line-height:13px;font-size:10.3px;color:#69717c;white-space:nowrap;letter-spacing:0.35px;right:1216.8px;">9:00 pm</div>
<div style="position:absolute;top:862.8px;line-height:13px;font-size:10.3px;color:#69717c;white-space:nowrap;letter-spacing:0.35px;right:1216.8px;">10:00 pm</div>
<svg style="position:absolute;left:92.3px;top:139.0px;" width="14" height="14" viewBox="0 0 14 14" fill="none"><path d="M1 1.200h12L8.400 7v4.800L5.600 13V7z" fill="#55c8f5"/><path d="M3.800 2.800l2.600 3.400" stroke="#fff" stroke-width=".9" opacity=".8"/></svg>
<svg style="position:absolute;left:92.0px;top:186.0px;" width="15" height="14" viewBox="0 0 15 14" fill="none"><path d="M7.500 1l6.500 3.300-6.500 3.300L1 4.300z" fill="#d4d7db"/><path d="M1 7.200l6.500 3.300L14 7.200M1 10l6.500 3.300L14 10" stroke="#dcdfe2" stroke-width="1.300" fill="none"/></svg>
<div style="position:absolute;top:185.3px;line-height:16px;font-size:12px;color:#9da2a8;white-space:nowrap;font-weight:700;left:141.0px;">+</div>
<div style="position:absolute;top:185.8px;line-height:15px;font-size:11.8px;color:#a1a6ac;white-space:nowrap;font-weight:700;letter-spacing:0.12px;left:153.3px;">Make resource bundle</div>
<svg style="position:absolute;left:135.5px;top:138.0px;" width="23" height="12.5" viewBox="0 0 23 12.5" fill="none"><rect x=".5" y=".5" width="19" height="11" rx="2.500" fill="#fff" stroke="#d3d7dc"/><rect x="2.200" y="2.200" width="15.600" height="7.600" rx="1" fill="#9dce00"/><path d="M6 2.200v7.600M10 2.200v7.600M14 2.200v7.600" stroke="#8bc000" stroke-width=".6"/><rect x="20.500" y="4" width="1.500" height="4" rx=".7" fill="#d3d7dc"/></svg>
<div style="position:absolute;top:132.7px;line-height:16px;font-size:12.6px;color:#333;white-space:nowrap;left:165.3px;">Cameron Davies</div>
<div style="position:absolute;top:147.1px;line-height:13px;font-size:9.7px;color:#b5b9be;white-space:nowrap;letter-spacing:0.1px;left:165.3px;">Expert</div>
<div style="position:absolute;top:138.0px;line-height:16px;font-size:12.5px;color:#a8adb4;white-space:nowrap;right:1007.7px;">$790.00</div>
<svg style="position:absolute;left:341.5px;top:143.5px;" width="12" height="4" viewBox="0 0 12 4" fill="none"><circle cx="2" cy="2" r="1.100" fill="#b3b8be"/><circle cx="6" cy="2" r="1.100" fill="#b3b8be"/><circle cx="10" cy="2" r="1.100" fill="#b3b8be"/></svg>
<svg style="position:absolute;left:372.8px;top:138.0px;" width="23" height="12.5" viewBox="0 0 23 12.5" fill="none"><rect x=".5" y=".5" width="19" height="11" rx="2.500" fill="#fff" stroke="#d3d7dc"/><rect x="2.200" y="2.200" width="15.600" height="7.600" rx="1" fill="#9dce00"/><path d="M6 2.200v7.600M10 2.200v7.600M14 2.200v7.600" stroke="#8bc000" stroke-width=".6"/><rect x="20.500" y="4" width="1.500" height="4" rx=".7" fill="#d3d7dc"/></svg>
<div style="position:absolute;top:132.7px;line-height:16px;font-size:12.6px;color:#333;white-space:nowrap;left:402.6px;">Jake Williams</div>
<div style="position:absolute;top:147.1px;line-height:13px;font-size:9.7px;color:#b5b9be;white-space:nowrap;letter-spacing:0.1px;left:402.6px;">Expert</div>
<div style="position:absolute;top:138.0px;line-height:16px;font-size:12.5px;color:#a8adb4;white-space:nowrap;right:770.4px;">$970.00</div>
<svg style="position:absolute;left:578.8px;top:143.5px;" width="12" height="4" viewBox="0 0 12 4" fill="none"><circle cx="2" cy="2" r="1.100" fill="#b3b8be"/><circle cx="6" cy="2" r="1.100" fill="#b3b8be"/><circle cx="10" cy="2" r="1.100" fill="#b3b8be"/></svg>
<svg style="position:absolute;left:610.1px;top:138.0px;" width="23" height="12.5" viewBox="0 0 23 12.5" fill="none"><rect x=".5" y=".5" width="19" height="11" rx="2.500" fill="#fff" stroke="#d3d7dc"/><rect x="2.200" y="2.200" width="15.600" height="7.600" rx="1" fill="#9dce00"/><path d="M6 2.200v7.600M10 2.200v7.600M14 2.200v7.600" stroke="#8bc000" stroke-width=".6"/><rect x="20.500" y="4" width="1.500" height="4" rx=".7" fill="#d3d7dc"/></svg>
<div style="position:absolute;top:132.7px;line-height:16px;font-size:12.6px;color:#333;white-space:nowrap;left:639.9px;">Caroline Simon</div>
<div style="position:absolute;top:147.1px;line-height:13px;font-size:9.7px;color:#b5b9be;white-space:nowrap;letter-spacing:0.1px;left:639.9px;">Expert</div>
<div style="position:absolute;top:138.0px;line-height:16px;font-size:12.5px;color:#a8adb4;white-space:nowrap;right:533.1px;">$630.00</div>
<svg style="position:absolute;left:816.1px;top:143.5px;" width="12" height="4" viewBox="0 0 12 4" fill="none"><circle cx="2" cy="2" r="1.100" fill="#b3b8be"/><circle cx="6" cy="2" r="1.100" fill="#b3b8be"/><circle cx="10" cy="2" r="1.100" fill="#b3b8be"/></svg>
<svg style="position:absolute;left:847.4px;top:138.0px;" width="23" height="12.5" viewBox="0 0 23 12.5" fill="none"><rect x=".5" y=".5" width="19" height="11" rx="2.500" fill="#fff" stroke="#d3d7dc"/><rect x="2.200" y="2.200" width="15.600" height="7.600" rx="1" fill="#9dce00"/><path d="M6 2.200v7.600M10 2.200v7.600M14 2.200v7.600" stroke="#8bc000" stroke-width=".6"/><rect x="20.500" y="4" width="1.500" height="4" rx=".7" fill="#d3d7dc"/></svg>
<div style="position:absolute;top:132.7px;line-height:16px;font-size:12.6px;color:#333;white-space:nowrap;left:877.2px;">Kate Wilkinson</div>
<div style="position:absolute;top:147.1px;line-height:13px;font-size:9.7px;color:#b5b9be;white-space:nowrap;letter-spacing:0.1px;left:877.2px;">Expert</div>
<div style="position:absolute;top:138.0px;line-height:16px;font-size:12.5px;color:#a8adb4;white-space:nowrap;right:295.8px;">$970.00</div>
<svg style="position:absolute;left:1053.4px;top:143.5px;" width="12" height="4" viewBox="0 0 12 4" fill="none"><circle cx="2" cy="2" r="1.100" fill="#b3b8be"/><circle cx="6" cy="2" r="1.100" fill="#b3b8be"/><circle cx="10" cy="2" r="1.100" fill="#b3b8be"/></svg>
<div style="position:absolute;left:1083.3px;top:134.4px;width:22.0px;height:22.0px;background:#7ed3f7;border-radius:11px;"></div>
<svg style="position:absolute;left:1089.3px;top:140.4px;" width="10" height="10" viewBox="0 0 10 10" fill="none"><path d="M5 1.200v7.600M1.200 5h7.600" stroke="#fff" stroke-width="1.500" stroke-linecap="round"/></svg>
<div style="position:absolute;top:136.8px;line-height:17px;font-size:12.8px;color:#a3a8ae;white-space:nowrap;left:1113.8px;">Add a resource</div>
<div style="position:absolute;left:128.3px;top:321.1px;width:232.8px;height:36.8px;background:#9fd000;border-radius:4.5px;overflow:hidden"><div style="position:absolute;left:208.4px;top:5.300px;width:1px;height:25.8px;background:rgba(255,255,255,.3)"></div><svg style="position:absolute;left:216.7px;top:15.7px;" width="9" height="6" viewBox="0 0 9 6" fill="none"><path d="M1 1l3.500 3.500L8 1" stroke="rgba(255,255,255,.9)" stroke-width="1.150" stroke-linecap="round" stroke-linejoin="round"/></svg><div style="position:absolute;top:2.7px;line-height:15px;font-size:11.5px;color:#fff;white-space:nowrap;letter-spacing:0.35px;left:7.4px;-webkit-text-stroke:.2px #fff;">Evelyn Butler<svg style="display:inline-block;margin-left:3.2px;position:relative;top:-0.3px" width="8.600" height="8.600" viewBox="0 0 8 8"><path d="M1.200.3h3.900l2.600 2.500v3.900a1 1 0 0 1-1 1H1.200a1 1 0 0 1-1-1v-5.400a1 1 0 0 1 1-1z" fill="rgba(255,255,255,.62)"/><path d="M2 3.600h3.600M2 5.300h3.600" stroke="rgba(0,0,0,.13)" stroke-width=".7"/></svg></div><div style="position:absolute;top:18.2px;line-height:13px;font-size:10.2px;color:rgba(255,255,255,.88);white-space:nowrap;letter-spacing:0.27px;left:7.4px;">9:00 am – 10:00 am</div><div style="position:absolute;top:4.1px;line-height:13px;font-size:10.2px;color:rgba(255,255,255,.9);white-space:nowrap;letter-spacing:0.5px;right:30.6px;">$125.00</div><div style="position:absolute;left:186.3px;top:21.6px;font-size:6.600px;line-height:9px;font-weight:700;color:rgba(255,255,255,.92);letter-spacing:.05px">CRM</div><svg style="position:absolute;left:169.6px;top:20.6px;" width="13" height="11" viewBox="0 0 13 11" fill="none"><path d="M.8.800h7.800v5.600H3.600L.8 8.600z" fill="rgba(255,255,255,.62)"/><path d="M10 3.200h1.700v6.200l-1.400-1.200H4.800V7.600" stroke="rgba(255,255,255,.62)" stroke-width="1.100" fill="none"/></svg><svg style="position:absolute;left:154.8px;top:20.3px;" width="11" height="11" viewBox="0 0 10 10" fill="none"><path d="M1.200 1.200c-.600.600-.500 2.900 1.900 5.300s4.700 2.500 5.300 1.900l.5-.6c.2-.2.200-.5 0-.7L7.600 6c-.2-.2-.5-.2-.7 0l-.6.600c-.7-.2-2.400-1.900-2.600-2.600l.6-.6c.2-.2.2-.5 0-.7L3.200 1.400c-.2-.2-.5-.2-.7 0z" fill="rgba(255,255,255,.62)"/></svg></div><svg style="position:absolute;left:354.9px;top:313.1px;" width="14.4" height="14.4" viewBox="0 0 14.4 14.4" fill="none"><circle cx="7.200" cy="7.200" r="6.400" fill="#7cab1c" stroke="#f4ffd6" stroke-width="1.400"/><path d="M4.300 7.400l2 2 3.600-3.800" stroke="#fff" stroke-width="1.300" stroke-linecap="round" stroke-linejoin="round"/></svg>
<div style="position:absolute;left:128.3px;top:363.4px;width:232.8px;height:79.2px;background:#9fd000;border-radius:4.5px;overflow:hidden"><div style="position:absolute;left:208.4px;top:5.300px;width:1px;height:68.2px;background:rgba(255,255,255,.3)"></div><svg style="position:absolute;left:216.7px;top:36.9px;" width="9" height="6" viewBox="0 0 9 6" fill="none"><path d="M1 1l3.500 3.500L8 1" stroke="rgba(255,255,255,.9)" stroke-width="1.150" stroke-linecap="round" stroke-linejoin="round"/></svg><div style="position:absolute;top:2.7px;line-height:15px;font-size:11.5px;color:#fff;white-space:nowrap;letter-spacing:0.35px;left:7.4px;-webkit-text-stroke:.2px #fff;">Harry Armstrong<svg style="display:inline-block;margin-left:3.2px;position:relative;top:-0.3px" width="8.600" height="8.600" viewBox="0 0 8 8"><path d="M1.200.3h3.900l2.600 2.500v3.900a1 1 0 0 1-1 1H1.200a1 1 0 0 1-1-1v-5.400a1 1 0 0 1 1-1z" fill="rgba(255,255,255,.62)"/><path d="M2 3.600h3.600M2 5.300h3.600" stroke="rgba(0,0,0,.13)" stroke-width=".7"/></svg></div><div style="position:absolute;top:18.2px;line-height:13px;font-size:10.2px;color:rgba(255,255,255,.88);white-space:nowrap;letter-spacing:0.27px;left:7.4px;">10:00 am – 12:00 pm</div><div style="position:absolute;top:4.1px;line-height:13px;font-size:10.2px;color:rgba(255,255,255,.9);white-space:nowrap;letter-spacing:0.5px;right:30.6px;">$300.00</div><div style="position:absolute;left:186.3px;top:64.0px;font-size:6.600px;line-height:9px;font-weight:700;color:rgba(255,255,255,.92);letter-spacing:.05px">CRM</div><svg style="position:absolute;left:169.6px;top:63.0px;" width="13" height="11" viewBox="0 0 13 11" fill="none"><path d="M.8.800h7.800v5.600H3.600L.8 8.600z" fill="rgba(255,255,255,.62)"/><path d="M10 3.200h1.700v6.200l-1.400-1.200H4.800V7.600" stroke="rgba(255,255,255,.62)" stroke-width="1.100" fill="none"/></svg><svg style="position:absolute;left:154.8px;top:62.7px;" width="11" height="11" viewBox="0 0 10 10" fill="none"><path d="M1.200 1.200c-.600.600-.500 2.900 1.900 5.300s4.700 2.500 5.300 1.900l.5-.6c.2-.2.200-.5 0-.7L7.600 6c-.2-.2-.5-.2-.7 0l-.6.600c-.7-.2-2.400-1.900-2.600-2.600l.6-.6c.2-.2.2-.5 0-.7L3.200 1.400c-.2-.2-.5-.2-.7 0z" fill="rgba(255,255,255,.62)"/></svg></div><svg style="position:absolute;left:354.9px;top:355.4px;" width="14.4" height="14.4" viewBox="0 0 14.4 14.4" fill="none"><circle cx="7.200" cy="7.200" r="6.400" fill="#7cab1c" stroke="#f4ffd6" stroke-width="1.400"/><path d="M4.300 7.400l2 2 3.600-3.800" stroke="#fff" stroke-width="1.300" stroke-linecap="round" stroke-linejoin="round"/></svg>
<div style="position:absolute;left:128.3px;top:532.7px;width:114.2px;height:36.8px;background:#cfa70c;border-radius:4.5px;overflow:hidden"><div style="position:absolute;left:89.8px;top:5.300px;width:1px;height:25.8px;background:rgba(255,255,255,.3)"></div><svg style="position:absolute;left:98.1px;top:15.7px;" width="9" height="6" viewBox="0 0 9 6" fill="none"><path d="M1 1l3.500 3.500L8 1" stroke="rgba(255,255,255,.9)" stroke-width="1.150" stroke-linecap="round" stroke-linejoin="round"/></svg><div style="position:absolute;top:2.7px;line-height:15px;font-size:11.5px;color:#fff;white-space:nowrap;letter-spacing:0.35px;left:7.4px;-webkit-text-stroke:.2px #fff;">David Sin...<svg style="display:inline-block;margin-left:3.2px;position:relative;top:-0.3px" width="8.600" height="8.600" viewBox="0 0 8 8"><path d="M1.200.3h3.900l2.600 2.500v3.900a1 1 0 0 1-1 1H1.200a1 1 0 0 1-1-1v-5.400a1 1 0 0 1 1-1z" fill="rgba(255,255,255,.62)"/><path d="M2 3.600h3.600M2 5.300h3.600" stroke="rgba(0,0,0,.13)" stroke-width=".7"/></svg></div><div style="position:absolute;top:18.2px;line-height:13px;font-size:10.2px;color:rgba(255,255,255,.88);white-space:nowrap;letter-spacing:0.12px;left:7.4px;width:81.29999999999998px;overflow:hidden;">2:00 pm – 3:00 pm</div></div>
<div style="position:absolute;left:247.1px;top:532.7px;width:114.0px;height:36.8px;background:#cfa70c;border-radius:4.5px;overflow:hidden"><div style="position:absolute;left:89.6px;top:5.300px;width:1px;height:25.8px;background:rgba(255,255,255,.3)"></div><svg style="position:absolute;left:97.9px;top:15.7px;" width="9" height="6" viewBox="0 0 9 6" fill="none"><path d="M1 1l3.500 3.500L8 1" stroke="rgba(255,255,255,.9)" stroke-width="1.150" stroke-linecap="round" stroke-linejoin="round"/></svg><div style="position:absolute;top:2.7px;line-height:15px;font-size:11.5px;color:#fff;white-space:nowrap;letter-spacing:0.35px;left:7.4px;-webkit-text-stroke:.2px #fff;">Charlotte...<svg style="display:inline-block;margin-left:3.2px;position:relative;top:-0.3px" width="8.600" height="8.600" viewBox="0 0 8 8"><path d="M1.200.3h3.900l2.600 2.500v3.900a1 1 0 0 1-1 1H1.200a1 1 0 0 1-1-1v-5.400a1 1 0 0 1 1-1z" fill="rgba(255,255,255,.62)"/><path d="M2 3.600h3.600M2 5.300h3.600" stroke="rgba(0,0,0,.13)" stroke-width=".7"/></svg></div><div style="position:absolute;top:18.2px;line-height:13px;font-size:10.2px;color:rgba(255,255,255,.88);white-space:nowrap;letter-spacing:0.12px;left:7.4px;width:81.1px;overflow:hidden;">2:00 pm – 3:00 pm</div></div>
<div style="position:absolute;left:128.3px;top:575.0px;width:232.8px;height:36.8px;background:#9fd000;border-radius:4.5px;overflow:hidden"><div style="position:absolute;left:208.4px;top:5.300px;width:1px;height:25.8px;background:rgba(255,255,255,.3)"></div><svg style="position:absolute;left:216.7px;top:15.7px;" width="9" height="6" viewBox="0 0 9 6" fill="none"><path d="M1 1l3.500 3.500L8 1" stroke="rgba(255,255,255,.9)" stroke-width="1.150" stroke-linecap="round" stroke-linejoin="round"/></svg><div style="position:absolute;top:2.7px;line-height:15px;font-size:11.5px;color:#fff;white-space:nowrap;letter-spacing:0.35px;left:7.4px;-webkit-text-stroke:.2px #fff;">Mandy Blanton<svg style="display:inline-block;margin-left:3.2px;position:relative;top:-0.3px" width="8.600" height="8.600" viewBox="0 0 8 8"><path d="M1.200.3h3.900l2.600 2.500v3.900a1 1 0 0 1-1 1H1.200a1 1 0 0 1-1-1v-5.400a1 1 0 0 1 1-1z" fill="rgba(255,255,255,.62)"/><path d="M2 3.600h3.600M2 5.300h3.600" stroke="rgba(0,0,0,.13)" stroke-width=".7"/></svg></div><div style="position:absolute;top:18.2px;line-height:13px;font-size:10.2px;color:rgba(255,255,255,.88);white-space:nowrap;letter-spacing:0.27px;left:7.4px;">3:00 pm – 4:00 pm</div><div style="position:absolute;top:4.1px;line-height:13px;font-size:10.2px;color:rgba(255,255,255,.9);white-space:nowrap;letter-spacing:0.5px;right:30.6px;">$150.00</div><div style="position:absolute;left:186.3px;top:21.6px;font-size:6.600px;line-height:9px;font-weight:700;color:rgba(255,255,255,.92);letter-spacing:.05px">CRM</div><svg style="position:absolute;left:169.6px;top:20.6px;" width="13" height="11" viewBox="0 0 13 11" fill="none"><path d="M.8.800h7.800v5.600H3.600L.8 8.600z" fill="rgba(255,255,255,.62)"/><path d="M10 3.200h1.700v6.200l-1.400-1.200H4.800V7.600" stroke="rgba(255,255,255,.62)" stroke-width="1.100" fill="none"/></svg><svg style="position:absolute;left:154.8px;top:20.3px;" width="11" height="11" viewBox="0 0 10 10" fill="none"><path d="M1.200 1.200c-.600.600-.500 2.900 1.900 5.300s4.700 2.500 5.300 1.900l.5-.6c.2-.2.200-.5 0-.7L7.600 6c-.2-.2-.5-.2-.7 0l-.6.600c-.7-.2-2.400-1.900-2.600-2.600l.6-.6c.2-.2.2-.5 0-.7L3.200 1.400c-.2-.2-.5-.2-.7 0z" fill="rgba(255,255,255,.62)"/></svg></div><svg style="position:absolute;left:354.9px;top:567.0px;" width="14.4" height="14.4" viewBox="0 0 14.4 14.4" fill="none"><circle cx="7.200" cy="7.200" r="6.400" fill="#7cab1c" stroke="#f4ffd6" stroke-width="1.400"/><path d="M4.300 7.400l2 2 3.600-3.800" stroke="#fff" stroke-width="1.300" stroke-linecap="round" stroke-linejoin="round"/></svg>
<div style="position:absolute;left:128.3px;top:638.5px;width:232.8px;height:36.8px;background:#2fc5f5;border-radius:4.5px;overflow:hidden"><div style="position:absolute;left:208.4px;top:5.300px;width:1px;height:25.8px;background:rgba(255,255,255,.3)"></div><svg style="position:absolute;left:216.7px;top:15.7px;" width="9" height="6" viewBox="0 0 9 6" fill="none"><path d="M1 1l3.500 3.500L8 1" stroke="rgba(255,255,255,.9)" stroke-width="1.150" stroke-linecap="round" stroke-linejoin="round"/></svg><div style="position:absolute;top:2.7px;line-height:15px;font-size:11.5px;color:#fff;white-space:nowrap;letter-spacing:0.35px;left:7.4px;-webkit-text-stroke:.2px #fff;">Erica Van Cleef<svg style="display:inline-block;margin-left:3.2px;position:relative;top:-0.3px" width="8.600" height="8.600" viewBox="0 0 8 8"><path d="M1.200.3h3.900l2.600 2.500v3.900a1 1 0 0 1-1 1H1.200a1 1 0 0 1-1-1v-5.400a1 1 0 0 1 1-1z" fill="rgba(255,255,255,.62)"/><path d="M2 3.600h3.600M2 5.300h3.600" stroke="rgba(0,0,0,.13)" stroke-width=".7"/></svg></div><div style="position:absolute;top:18.2px;line-height:13px;font-size:10.2px;color:rgba(255,255,255,.88);white-space:nowrap;letter-spacing:0.27px;left:7.4px;">4:30 pm – 5:30 pm</div><div style="position:absolute;top:4.1px;line-height:13px;font-size:10.2px;color:rgba(255,255,255,.9);white-space:nowrap;letter-spacing:0.5px;right:30.6px;">$215.00</div><div style="position:absolute;left:186.3px;top:21.6px;font-size:6.600px;line-height:9px;font-weight:700;color:rgba(255,255,255,.92);letter-spacing:.05px">CRM</div><svg style="position:absolute;left:169.6px;top:20.6px;" width="13" height="11" viewBox="0 0 13 11" fill="none"><path d="M.8.800h7.800v5.600H3.600L.8 8.600z" fill="rgba(255,255,255,.62)"/><path d="M10 3.200h1.700v6.200l-1.400-1.200H4.800V7.600" stroke="rgba(255,255,255,.62)" stroke-width="1.100" fill="none"/></svg><svg style="position:absolute;left:154.8px;top:20.3px;" width="11" height="11" viewBox="0 0 10 10" fill="none"><path d="M1.200 1.200c-.600.600-.500 2.900 1.900 5.300s4.700 2.500 5.300 1.900l.5-.6c.2-.2.200-.5 0-.7L7.600 6c-.2-.2-.5-.2-.7 0l-.6.600c-.7-.2-2.400-1.900-2.600-2.600l.6-.6c.2-.2.2-.5 0-.7L3.200 1.400c-.2-.2-.5-.2-.7 0z" fill="rgba(255,255,255,.62)"/></svg></div>
<div style="position:absolute;left:365.6px;top:405.7px;width:232.8px;height:36.8px;background:#2fc5f5;border-radius:4.5px;overflow:hidden"><div style="position:absolute;left:208.4px;top:5.300px;width:1px;height:25.8px;background:rgba(255,255,255,.3)"></div><svg style="position:absolute;left:216.7px;top:15.7px;" width="9" height="6" viewBox="0 0 9 6" fill="none"><path d="M1 1l3.500 3.500L8 1" stroke="rgba(255,255,255,.9)" stroke-width="1.150" stroke-linecap="round" stroke-linejoin="round"/></svg><div style="position:absolute;top:2.7px;line-height:15px;font-size:11.5px;color:#fff;white-space:nowrap;letter-spacing:0.35px;left:7.4px;-webkit-text-stroke:.2px #fff;">Mason Bennett<svg style="display:inline-block;margin-left:3.2px;position:relative;top:-0.3px" width="8.600" height="8.600" viewBox="0 0 8 8"><path d="M1.200.3h3.900l2.600 2.500v3.900a1 1 0 0 1-1 1H1.200a1 1 0 0 1-1-1v-5.400a1 1 0 0 1 1-1z" fill="rgba(255,255,255,.62)"/><path d="M2 3.600h3.600M2 5.300h3.600" stroke="rgba(0,0,0,.13)" stroke-width=".7"/></svg></div><div style="position:absolute;top:18.2px;line-height:13px;font-size:10.2px;color:rgba(255,255,255,.88);white-space:nowrap;letter-spacing:0.27px;left:7.4px;">11:00 am – 12:00 pm</div><div style="position:absolute;top:4.1px;line-height:13px;font-size:10.2px;color:rgba(255,255,255,.9);white-space:nowrap;letter-spacing:0.5px;right:30.6px;">$120.00</div><div style="position:absolute;left:186.3px;top:21.6px;font-size:6.600px;line-height:9px;font-weight:700;color:rgba(255,255,255,.92);letter-spacing:.05px">CRM</div><svg style="position:absolute;left:169.6px;top:20.6px;" width="13" height="11" viewBox="0 0 13 11" fill="none"><path d="M.8.800h7.800v5.600H3.600L.8 8.600z" fill="rgba(255,255,255,.62)"/><path d="M10 3.200h1.700v6.200l-1.400-1.200H4.800V7.600" stroke="rgba(255,255,255,.62)" stroke-width="1.100" fill="none"/></svg><svg style="position:absolute;left:154.8px;top:20.3px;" width="11" height="11" viewBox="0 0 10 10" fill="none"><path d="M1.200 1.200c-.600.600-.500 2.900 1.900 5.300s4.700 2.500 5.300 1.900l.5-.6c.2-.2.200-.5 0-.7L7.600 6c-.2-.2-.5-.2-.7 0l-.6.600c-.7-.2-2.400-1.900-2.600-2.600l.6-.6c.2-.2.2-.5 0-.7L3.200 1.400c-.2-.2-.5-.2-.7 0z" fill="rgba(255,255,255,.62)"/></svg></div>
<div style="position:absolute;left:365.6px;top:448.0px;width:232.8px;height:26.2px;background:#9fd000;border-radius:4.5px;overflow:hidden"><div style="position:absolute;left:208.4px;top:5.300px;width:1px;height:15.2px;background:rgba(255,255,255,.3)"></div><svg style="position:absolute;left:216.7px;top:10.4px;" width="9" height="6" viewBox="0 0 9 6" fill="none"><path d="M1 1l3.500 3.500L8 1" stroke="rgba(255,255,255,.9)" stroke-width="1.150" stroke-linecap="round" stroke-linejoin="round"/></svg><div style="position:absolute;top:5.9px;line-height:15px;font-size:11.5px;color:#fff;white-space:nowrap;letter-spacing:0.35px;left:7.4px;">Anna...<svg style="display:inline-block;margin-left:3.5px;position:relative;top:0px" width="8.600" height="8.600" viewBox="0 0 8 8"><path d="M1.200.3h3.900l2.600 2.500v3.900a1 1 0 0 1-1 1H1.200a1 1 0 0 1-1-1v-5.400a1 1 0 0 1 1-1z" fill="rgba(255,255,255,.62)"/><path d="M2 3.600h3.600M2 5.300h3.600" stroke="rgba(0,0,0,.13)" stroke-width=".7"/></svg><span style="font-size:10.200px;letter-spacing:.3px;color:rgba(255,255,255,.9);margin-left:3px">12:00 pm – 12:45 pm</span></div><div style="position:absolute;top:7.1px;line-height:13px;font-size:10.2px;color:rgba(255,255,255,.9);white-space:nowrap;letter-spacing:0.5px;right:29.9px;">$85.00</div></div><svg style="position:absolute;left:592.2px;top:440.0px;" width="14.4" height="14.4" viewBox="0 0 14.4 14.4" fill="none"><circle cx="7.200" cy="7.200" r="6.400" fill="#7cab1c" stroke="#f4ffd6" stroke-width="1.400"/><path d="M4.300 7.400l2 2 3.600-3.800" stroke="#fff" stroke-width="1.300" stroke-linecap="round" stroke-linejoin="round"/></svg>
<div style="position:absolute;left:365.6px;top:490.4px;width:232.8px;height:36.8px;background:#9fd000;border-radius:4.5px;overflow:hidden"><div style="position:absolute;left:208.4px;top:5.300px;width:1px;height:25.8px;background:rgba(255,255,255,.3)"></div><svg style="position:absolute;left:216.7px;top:15.7px;" width="9" height="6" viewBox="0 0 9 6" fill="none"><path d="M1 1l3.500 3.500L8 1" stroke="rgba(255,255,255,.9)" stroke-width="1.150" stroke-linecap="round" stroke-linejoin="round"/></svg><div style="position:absolute;top:2.7px;line-height:15px;font-size:11.5px;color:#fff;white-space:nowrap;letter-spacing:0.35px;left:7.4px;-webkit-text-stroke:.2px #fff;">Eva Lewis<svg style="display:inline-block;margin-left:3.2px;position:relative;top:-0.3px" width="8.600" height="8.600" viewBox="0 0 8 8"><path d="M1.200.3h3.900l2.600 2.500v3.900a1 1 0 0 1-1 1H1.200a1 1 0 0 1-1-1v-5.400a1 1 0 0 1 1-1z" fill="rgba(255,255,255,.62)"/><path d="M2 3.600h3.600M2 5.300h3.600" stroke="rgba(0,0,0,.13)" stroke-width=".7"/></svg></div><div style="position:absolute;top:18.2px;line-height:13px;font-size:10.2px;color:rgba(255,255,255,.88);white-space:nowrap;letter-spacing:0.27px;left:7.4px;">1:00 pm – 2:00 pm</div><div style="position:absolute;top:4.1px;line-height:13px;font-size:10.2px;color:rgba(255,255,255,.9);white-space:nowrap;letter-spacing:0.5px;right:30.6px;">$240.00</div><div style="position:absolute;left:186.3px;top:21.6px;font-size:6.600px;line-height:9px;font-weight:700;color:rgba(255,255,255,.92);letter-spacing:.05px">CRM</div><svg style="position:absolute;left:169.6px;top:20.6px;" width="13" height="11" viewBox="0 0 13 11" fill="none"><path d="M.8.800h7.800v5.600H3.600L.8 8.600z" fill="rgba(255,255,255,.62)"/><path d="M10 3.200h1.700v6.200l-1.400-1.200H4.800V7.600" stroke="rgba(255,255,255,.62)" stroke-width="1.100" fill="none"/></svg><svg style="position:absolute;left:154.8px;top:20.3px;" width="11" height="11" viewBox="0 0 10 10" fill="none"><path d="M1.200 1.200c-.600.600-.500 2.900 1.900 5.300s4.700 2.500 5.300 1.900l.5-.6c.2-.2.200-.5 0-.7L7.600 6c-.2-.2-.5-.2-.7 0l-.6.600c-.7-.2-2.400-1.900-2.600-2.600l.6-.6c.2-.2.2-.5 0-.7L3.200 1.400c-.2-.2-.5-.2-.7 0z" fill="rgba(255,255,255,.62)"/></svg></div><svg style="position:absolute;left:592.2px;top:482.4px;" width="14.4" height="14.4" viewBox="0 0 14.4 14.4" fill="none"><circle cx="7.200" cy="7.200" r="6.400" fill="#7cab1c" stroke="#f4ffd6" stroke-width="1.400"/><path d="M4.300 7.400l2 2 3.600-3.800" stroke="#fff" stroke-width="1.300" stroke-linecap="round" stroke-linejoin="round"/></svg>
<div style="position:absolute;left:365.6px;top:575.0px;width:232.8px;height:79.2px;background:#9fd000;border-radius:4.5px;overflow:hidden"><div style="position:absolute;left:208.4px;top:5.300px;width:1px;height:68.2px;background:rgba(255,255,255,.3)"></div><svg style="position:absolute;left:216.7px;top:36.9px;" width="9" height="6" viewBox="0 0 9 6" fill="none"><path d="M1 1l3.500 3.500L8 1" stroke="rgba(255,255,255,.9)" stroke-width="1.150" stroke-linecap="round" stroke-linejoin="round"/></svg><div style="position:absolute;top:2.7px;line-height:15px;font-size:11.5px;color:#fff;white-space:nowrap;letter-spacing:0.35px;left:7.4px;-webkit-text-stroke:.2px #fff;">Isabella Cooper<svg style="display:inline-block;margin-left:3.2px;position:relative;top:-0.3px" width="8.600" height="8.600" viewBox="0 0 8 8"><path d="M1.200.3h3.900l2.600 2.500v3.900a1 1 0 0 1-1 1H1.200a1 1 0 0 1-1-1v-5.400a1 1 0 0 1 1-1z" fill="rgba(255,255,255,.62)"/><path d="M2 3.600h3.600M2 5.300h3.600" stroke="rgba(0,0,0,.13)" stroke-width=".7"/></svg></div><div style="position:absolute;top:18.2px;line-height:13px;font-size:10.2px;color:rgba(255,255,255,.88);white-space:nowrap;letter-spacing:0.27px;left:7.4px;">3:00 pm – 5:00 pm</div><div style="position:absolute;top:4.1px;line-height:13px;font-size:10.2px;color:rgba(255,255,255,.9);white-space:nowrap;letter-spacing:0.5px;right:30.6px;">$350.00</div><div style="position:absolute;left:186.3px;top:64.0px;font-size:6.600px;line-height:9px;font-weight:700;color:rgba(255,255,255,.92);letter-spacing:.05px">CRM</div><svg style="position:absolute;left:169.6px;top:63.0px;" width="13" height="11" viewBox="0 0 13 11" fill="none"><path d="M.8.800h7.800v5.600H3.600L.8 8.600z" fill="rgba(255,255,255,.62)"/><path d="M10 3.200h1.700v6.200l-1.400-1.200H4.800V7.600" stroke="rgba(255,255,255,.62)" stroke-width="1.100" fill="none"/></svg><svg style="position:absolute;left:154.8px;top:62.7px;" width="11" height="11" viewBox="0 0 10 10" fill="none"><path d="M1.200 1.200c-.600.600-.500 2.900 1.900 5.300s4.700 2.500 5.300 1.900l.5-.6c.2-.2.200-.5 0-.7L7.600 6c-.2-.2-.5-.2-.7 0l-.6.600c-.7-.2-2.400-1.900-2.600-2.600l.6-.6c.2-.2.2-.5 0-.7L3.200 1.400c-.2-.2-.5-.2-.7 0z" fill="rgba(255,255,255,.62)"/></svg></div><svg style="position:absolute;left:592.2px;top:567.0px;" width="14.4" height="14.4" viewBox="0 0 14.4 14.4" fill="none"><circle cx="7.200" cy="7.200" r="6.400" fill="#7cab1c" stroke="#f4ffd6" stroke-width="1.400"/><path d="M4.300 7.400l2 2 3.600-3.800" stroke="#fff" stroke-width="1.300" stroke-linecap="round" stroke-linejoin="round"/></svg>
<div style="position:absolute;left:365.6px;top:659.7px;width:232.8px;height:36.8px;background:#9fd000;border-radius:4.5px;overflow:hidden"><div style="position:absolute;left:208.4px;top:5.300px;width:1px;height:25.8px;background:rgba(255,255,255,.3)"></div><svg style="position:absolute;left:216.7px;top:15.7px;" width="9" height="6" viewBox="0 0 9 6" fill="none"><path d="M1 1l3.500 3.500L8 1" stroke="rgba(255,255,255,.9)" stroke-width="1.150" stroke-linecap="round" stroke-linejoin="round"/></svg><div style="position:absolute;top:2.7px;line-height:15px;font-size:11.5px;color:#fff;white-space:nowrap;letter-spacing:0.35px;left:7.4px;-webkit-text-stroke:.2px #fff;">Laurel Reynolds<svg style="display:inline-block;margin-left:3.2px;position:relative;top:-0.3px" width="8.600" height="8.600" viewBox="0 0 8 8"><path d="M1.200.3h3.900l2.600 2.500v3.900a1 1 0 0 1-1 1H1.200a1 1 0 0 1-1-1v-5.400a1 1 0 0 1 1-1z" fill="rgba(255,255,255,.62)"/><path d="M2 3.600h3.600M2 5.300h3.600" stroke="rgba(0,0,0,.13)" stroke-width=".7"/></svg></div><div style="position:absolute;top:18.2px;line-height:13px;font-size:10.2px;color:rgba(255,255,255,.88);white-space:nowrap;letter-spacing:0.27px;left:7.4px;">5:00 pm – 6:00 pm</div><div style="position:absolute;top:4.1px;line-height:13px;font-size:10.2px;color:rgba(255,255,255,.9);white-space:nowrap;letter-spacing:0.5px;right:30.6px;">$100.00</div><div style="position:absolute;left:186.3px;top:21.6px;font-size:6.600px;line-height:9px;font-weight:700;color:rgba(255,255,255,.92);letter-spacing:.05px">CRM</div><svg style="position:absolute;left:169.6px;top:20.6px;" width="13" height="11" viewBox="0 0 13 11" fill="none"><path d="M.8.800h7.800v5.600H3.600L.8 8.600z" fill="rgba(255,255,255,.62)"/><path d="M10 3.200h1.700v6.200l-1.400-1.200H4.800V7.600" stroke="rgba(255,255,255,.62)" stroke-width="1.100" fill="none"/></svg><svg style="position:absolute;left:154.8px;top:20.3px;" width="11" height="11" viewBox="0 0 10 10" fill="none"><path d="M1.200 1.200c-.600.600-.500 2.900 1.900 5.300s4.700 2.500 5.300 1.900l.5-.6c.2-.2.200-.5 0-.7L7.600 6c-.2-.2-.5-.2-.7 0l-.6.600c-.7-.2-2.400-1.900-2.600-2.600l.6-.6c.2-.2.2-.5 0-.7L3.200 1.400c-.2-.2-.5-.2-.7 0z" fill="rgba(255,255,255,.62)"/></svg></div><svg style="position:absolute;left:592.2px;top:651.7px;" width="14.4" height="14.4" viewBox="0 0 14.4 14.4" fill="none"><circle cx="7.200" cy="7.200" r="6.400" fill="#7cab1c" stroke="#f4ffd6" stroke-width="1.400"/><path d="M4.300 7.400l2 2 3.600-3.800" stroke="#fff" stroke-width="1.300" stroke-linecap="round" stroke-linejoin="round"/></svg>
<div style="position:absolute;left:365.6px;top:702.0px;width:232.8px;height:36.8px;background:#2fc5f5;border-radius:4.5px;overflow:hidden"><div style="position:absolute;left:208.4px;top:5.300px;width:1px;height:25.8px;background:rgba(255,255,255,.3)"></div><svg style="position:absolute;left:216.7px;top:15.7px;" width="9" height="6" viewBox="0 0 9 6" fill="none"><path d="M1 1l3.500 3.500L8 1" stroke="rgba(255,255,255,.9)" stroke-width="1.150" stroke-linecap="round" stroke-linejoin="round"/></svg><div style="position:absolute;top:2.7px;line-height:15px;font-size:11.5px;color:#fff;white-space:nowrap;letter-spacing:0.35px;left:7.4px;-webkit-text-stroke:.2px #fff;">Kyle Barnes<svg style="display:inline-block;margin-left:3.2px;position:relative;top:-0.3px" width="8.600" height="8.600" viewBox="0 0 8 8"><path d="M1.200.3h3.900l2.600 2.500v3.900a1 1 0 0 1-1 1H1.200a1 1 0 0 1-1-1v-5.400a1 1 0 0 1 1-1z" fill="rgba(255,255,255,.62)"/><path d="M2 3.600h3.600M2 5.300h3.600" stroke="rgba(0,0,0,.13)" stroke-width=".7"/></svg></div><div style="position:absolute;top:18.2px;line-height:13px;font-size:10.2px;color:rgba(255,255,255,.88);white-space:nowrap;letter-spacing:0.27px;left:7.4px;">6:00 pm – 7:00 pm</div><div style="position:absolute;top:4.1px;line-height:13px;font-size:10.2px;color:rgba(255,255,255,.9);white-space:nowrap;letter-spacing:0.5px;right:30.6px;">$75.00</div><div style="position:absolute;left:186.3px;top:21.6px;font-size:6.600px;line-height:9px;font-weight:700;color:rgba(255,255,255,.92);letter-spacing:.05px">CRM</div><svg style="position:absolute;left:169.6px;top:20.6px;" width="13" height="11" viewBox="0 0 13 11" fill="none"><path d="M.8.800h7.800v5.600H3.600L.8 8.600z" fill="rgba(255,255,255,.62)"/><path d="M10 3.200h1.700v6.200l-1.400-1.200H4.800V7.600" stroke="rgba(255,255,255,.62)" stroke-width="1.100" fill="none"/></svg><svg style="position:absolute;left:154.8px;top:20.3px;" width="11" height="11" viewBox="0 0 10 10" fill="none"><path d="M1.200 1.200c-.600.600-.500 2.900 1.900 5.300s4.700 2.500 5.300 1.900l.5-.6c.2-.2.200-.5 0-.7L7.600 6c-.2-.2-.5-.2-.7 0l-.6.600c-.7-.2-2.400-1.900-2.600-2.600l.6-.6c.2-.2.2-.5 0-.7L3.200 1.400c-.2-.2-.5-.2-.7 0z" fill="rgba(255,255,255,.62)"/></svg></div>
<div style="position:absolute;left:602.9px;top:321.1px;width:232.8px;height:36.8px;background:#2fc5f5;border-radius:4.5px;overflow:hidden"><div style="position:absolute;left:208.4px;top:5.300px;width:1px;height:25.8px;background:rgba(255,255,255,.3)"></div><svg style="position:absolute;left:216.7px;top:15.7px;" width="9" height="6" viewBox="0 0 9 6" fill="none"><path d="M1 1l3.500 3.500L8 1" stroke="rgba(255,255,255,.9)" stroke-width="1.150" stroke-linecap="round" stroke-linejoin="round"/></svg><div style="position:absolute;top:2.7px;line-height:15px;font-size:11.5px;color:#fff;white-space:nowrap;letter-spacing:0.35px;left:7.4px;-webkit-text-stroke:.2px #fff;">Jeremy Parker<svg style="display:inline-block;margin-left:3.2px;position:relative;top:-0.3px" width="8.600" height="8.600" viewBox="0 0 8 8"><path d="M1.200.3h3.900l2.600 2.500v3.900a1 1 0 0 1-1 1H1.200a1 1 0 0 1-1-1v-5.400a1 1 0 0 1 1-1z" fill="rgba(255,255,255,.62)"/><path d="M2 3.600h3.600M2 5.300h3.600" stroke="rgba(0,0,0,.13)" stroke-width=".7"/></svg></div><div style="position:absolute;top:18.2px;line-height:13px;font-size:10.2px;color:rgba(255,255,255,.88);white-space:nowrap;letter-spacing:0.27px;left:7.4px;">9:00 am – 10:00 am</div><div style="position:absolute;top:4.1px;line-height:13px;font-size:10.2px;color:rgba(255,255,255,.9);white-space:nowrap;letter-spacing:0.5px;right:30.6px;">$100.00</div><div style="position:absolute;left:186.3px;top:21.6px;font-size:6.600px;line-height:9px;font-weight:700;color:rgba(255,255,255,.92);letter-spacing:.05px">CRM</div><svg style="position:absolute;left:169.6px;top:20.6px;" width="13" height="11" viewBox="0 0 13 11" fill="none"><path d="M.8.800h7.800v5.600H3.600L.8 8.600z" fill="rgba(255,255,255,.62)"/><path d="M10 3.200h1.700v6.200l-1.400-1.200H4.800V7.600" stroke="rgba(255,255,255,.62)" stroke-width="1.100" fill="none"/></svg><svg style="position:absolute;left:154.8px;top:20.3px;" width="11" height="11" viewBox="0 0 10 10" fill="none"><path d="M1.200 1.200c-.600.600-.500 2.900 1.900 5.300s4.700 2.500 5.300 1.900l.5-.6c.2-.2.200-.5 0-.7L7.600 6c-.2-.2-.5-.2-.7 0l-.6.600c-.7-.2-2.400-1.900-2.600-2.600l.6-.6c.2-.2.2-.5 0-.7L3.200 1.400c-.2-.2-.5-.2-.7 0z" fill="rgba(255,255,255,.62)"/></svg></div>
<div style="position:absolute;left:602.9px;top:363.4px;width:114.2px;height:36.8px;background:#cfa70c;border-radius:4.5px;overflow:hidden"><div style="position:absolute;left:89.8px;top:5.300px;width:1px;height:25.8px;background:rgba(255,255,255,.3)"></div><svg style="position:absolute;left:98.1px;top:15.7px;" width="9" height="6" viewBox="0 0 9 6" fill="none"><path d="M1 1l3.500 3.500L8 1" stroke="rgba(255,255,255,.9)" stroke-width="1.150" stroke-linecap="round" stroke-linejoin="round"/></svg><div style="position:absolute;top:2.7px;line-height:15px;font-size:11.5px;color:#fff;white-space:nowrap;letter-spacing:0.35px;left:7.4px;-webkit-text-stroke:.2px #fff;">Sean Baker<svg style="display:inline-block;margin-left:3.2px;position:relative;top:-0.3px" width="8.600" height="8.600" viewBox="0 0 8 8"><path d="M1.200.3h3.900l2.600 2.500v3.900a1 1 0 0 1-1 1H1.200a1 1 0 0 1-1-1v-5.400a1 1 0 0 1 1-1z" fill="rgba(255,255,255,.62)"/><path d="M2 3.600h3.600M2 5.300h3.600" stroke="rgba(0,0,0,.13)" stroke-width=".7"/></svg></div><div style="position:absolute;top:18.2px;line-height:13px;font-size:10.2px;color:rgba(255,255,255,.88);white-space:nowrap;letter-spacing:0.12px;left:7.4px;width:81.30000000000004px;overflow:hidden;">10:00 am – 11:00 am</div></div>
<div style="position:absolute;left:721.7px;top:363.4px;width:114.0px;height:36.8px;background:#cfa70c;border-radius:4.5px;overflow:hidden"><div style="position:absolute;left:89.6px;top:5.300px;width:1px;height:25.8px;background:rgba(255,255,255,.3)"></div><svg style="position:absolute;left:97.9px;top:15.7px;" width="9" height="6" viewBox="0 0 9 6" fill="none"><path d="M1 1l3.500 3.500L8 1" stroke="rgba(255,255,255,.9)" stroke-width="1.150" stroke-linecap="round" stroke-linejoin="round"/></svg><div style="position:absolute;top:2.7px;line-height:15px;font-size:11.5px;color:#fff;white-space:nowrap;letter-spacing:0.35px;left:7.4px;-webkit-text-stroke:.2px #fff;">Dean Har...<svg style="display:inline-block;margin-left:3.2px;position:relative;top:-0.3px" width="8.600" height="8.600" viewBox="0 0 8 8"><path d="M1.200.3h3.900l2.600 2.500v3.900a1 1 0 0 1-1 1H1.200a1 1 0 0 1-1-1v-5.400a1 1 0 0 1 1-1z" fill="rgba(255,255,255,.62)"/><path d="M2 3.600h3.600M2 5.300h3.600" stroke="rgba(0,0,0,.13)" stroke-width=".7"/></svg></div><div style="position:absolute;top:18.2px;line-height:13px;font-size:10.2px;color:rgba(255,255,255,.88);white-space:nowrap;letter-spacing:0.12px;left:7.4px;width:81.1px;overflow:hidden;">10:00 am – 11:00 am</div></div>
<div style="position:absolute;left:602.9px;top:511.5px;width:232.8px;height:36.8px;background:#2fc5f5;border-radius:4.5px;overflow:hidden"><div style="position:absolute;left:208.4px;top:5.300px;width:1px;height:25.8px;background:rgba(255,255,255,.3)"></div><svg style="position:absolute;left:216.7px;top:15.7px;" width="9" height="6" viewBox="0 0 9 6" fill="none"><path d="M1 1l3.500 3.500L8 1" stroke="rgba(255,255,255,.9)" stroke-width="1.150" stroke-linecap="round" stroke-linejoin="round"/></svg><div style="position:absolute;top:2.7px;line-height:15px;font-size:11.5px;color:#fff;white-space:nowrap;letter-spacing:0.35px;left:7.4px;-webkit-text-stroke:.2px #fff;">Emma Foster<svg style="display:inline-block;margin-left:3.2px;position:relative;top:-0.3px" width="8.600" height="8.600" viewBox="0 0 8 8"><path d="M1.200.3h3.900l2.600 2.500v3.900a1 1 0 0 1-1 1H1.200a1 1 0 0 1-1-1v-5.400a1 1 0 0 1 1-1z" fill="rgba(255,255,255,.62)"/><path d="M2 3.600h3.600M2 5.300h3.600" stroke="rgba(0,0,0,.13)" stroke-width=".7"/></svg></div><div style="position:absolute;top:18.2px;line-height:13px;font-size:10.2px;color:rgba(255,255,255,.88);white-space:nowrap;letter-spacing:0.27px;left:7.4px;">1:30 pm – 2:30 pm</div><div style="position:absolute;top:4.1px;line-height:13px;font-size:10.2px;color:rgba(255,255,255,.9);white-space:nowrap;letter-spacing:0.5px;right:30.6px;">$150.00</div><div style="position:absolute;left:186.3px;top:21.6px;font-size:6.600px;line-height:9px;font-weight:700;color:rgba(255,255,255,.92);letter-spacing:.05px">CRM</div><svg style="position:absolute;left:169.6px;top:20.6px;" width="13" height="11" viewBox="0 0 13 11" fill="none"><path d="M.8.800h7.800v5.600H3.600L.8 8.600z" fill="rgba(255,255,255,.62)"/><path d="M10 3.200h1.700v6.200l-1.400-1.200H4.800V7.600" stroke="rgba(255,255,255,.62)" stroke-width="1.100" fill="none"/></svg><svg style="position:absolute;left:154.8px;top:20.3px;" width="11" height="11" viewBox="0 0 10 10" fill="none"><path d="M1.200 1.200c-.600.600-.500 2.900 1.900 5.300s4.700 2.500 5.300 1.900l.5-.6c.2-.2.200-.5 0-.7L7.600 6c-.2-.2-.5-.2-.7 0l-.6.600c-.7-.2-2.400-1.900-2.600-2.600l.6-.6c.2-.2.2-.5 0-.7L3.200 1.400c-.2-.2-.5-.2-.7 0z" fill="rgba(255,255,255,.62)"/></svg></div>
<div style="position:absolute;left:602.9px;top:575.0px;width:232.8px;height:36.8px;background:#9fd000;border-radius:4.5px;overflow:hidden"><div style="position:absolute;left:208.4px;top:5.300px;width:1px;height:25.8px;background:rgba(255,255,255,.3)"></div><svg style="position:absolute;left:216.7px;top:15.7px;" width="9" height="6" viewBox="0 0 9 6" fill="none"><path d="M1 1l3.500 3.500L8 1" stroke="rgba(255,255,255,.9)" stroke-width="1.150" stroke-linecap="round" stroke-linejoin="round"/></svg><div style="position:absolute;top:2.7px;line-height:15px;font-size:11.5px;color:#fff;white-space:nowrap;letter-spacing:0.35px;left:7.4px;-webkit-text-stroke:.2px #fff;">Charles Green<svg style="display:inline-block;margin-left:3.2px;position:relative;top:-0.3px" width="8.600" height="8.600" viewBox="0 0 8 8"><path d="M1.200.3h3.900l2.600 2.500v3.900a1 1 0 0 1-1 1H1.200a1 1 0 0 1-1-1v-5.400a1 1 0 0 1 1-1z" fill="rgba(255,255,255,.62)"/><path d="M2 3.600h3.600M2 5.300h3.600" stroke="rgba(0,0,0,.13)" stroke-width=".7"/></svg></div><div style="position:absolute;top:18.2px;line-height:13px;font-size:10.2px;color:rgba(255,255,255,.88);white-space:nowrap;letter-spacing:0.27px;left:7.4px;">3:00 pm – 4:00 pm</div><div style="position:absolute;top:4.1px;line-height:13px;font-size:10.2px;color:rgba(255,255,255,.9);white-space:nowrap;letter-spacing:0.5px;right:30.6px;">$135.00</div><div style="position:absolute;left:186.3px;top:21.6px;font-size:6.600px;line-height:9px;font-weight:700;color:rgba(255,255,255,.92);letter-spacing:.05px">CRM</div><svg style="position:absolute;left:169.6px;top:20.6px;" width="13" height="11" viewBox="0 0 13 11" fill="none"><path d="M.8.800h7.800v5.600H3.600L.8 8.600z" fill="rgba(255,255,255,.62)"/><path d="M10 3.200h1.700v6.200l-1.400-1.200H4.800V7.600" stroke="rgba(255,255,255,.62)" stroke-width="1.100" fill="none"/></svg><svg style="position:absolute;left:154.8px;top:20.3px;" width="11" height="11" viewBox="0 0 10 10" fill="none"><path d="M1.200 1.200c-.600.600-.500 2.900 1.900 5.300s4.700 2.500 5.300 1.900l.5-.6c.2-.2.200-.5 0-.7L7.600 6c-.2-.2-.5-.2-.7 0l-.6.600c-.7-.2-2.400-1.900-2.600-2.600l.6-.6c.2-.2.2-.5 0-.7L3.200 1.400c-.2-.2-.5-.2-.7 0z" fill="rgba(255,255,255,.62)"/></svg></div><svg style="position:absolute;left:829.5px;top:567.0px;" width="14.4" height="14.4" viewBox="0 0 14.4 14.4" fill="none"><circle cx="7.200" cy="7.200" r="6.400" fill="#7cab1c" stroke="#f4ffd6" stroke-width="1.400"/><path d="M4.300 7.400l2 2 3.600-3.800" stroke="#fff" stroke-width="1.300" stroke-linecap="round" stroke-linejoin="round"/></svg>
<div style="position:absolute;left:602.9px;top:617.4px;width:232.8px;height:58.0px;background:#9fd000;border-radius:4.5px;overflow:hidden"><div style="position:absolute;left:208.4px;top:5.300px;width:1px;height:47.0px;background:rgba(255,255,255,.3)"></div><svg style="position:absolute;left:216.7px;top:26.3px;" width="9" height="6" viewBox="0 0 9 6" fill="none"><path d="M1 1l3.500 3.500L8 1" stroke="rgba(255,255,255,.9)" stroke-width="1.150" stroke-linecap="round" stroke-linejoin="round"/></svg><div style="position:absolute;top:2.7px;line-height:15px;font-size:11.5px;color:#fff;white-space:nowrap;letter-spacing:0.35px;left:7.4px;-webkit-text-stroke:.2px #fff;">Ben Miller<svg style="display:inline-block;margin-left:3.2px;position:relative;top:-0.3px" width="8.600" height="8.600" viewBox="0 0 8 8"><path d="M1.200.3h3.900l2.600 2.500v3.900a1 1 0 0 1-1 1H1.200a1 1 0 0 1-1-1v-5.400a1 1 0 0 1 1-1z" fill="rgba(255,255,255,.62)"/><path d="M2 3.600h3.600M2 5.300h3.600" stroke="rgba(0,0,0,.13)" stroke-width=".7"/></svg></div><div style="position:absolute;top:18.2px;line-height:13px;font-size:10.2px;color:rgba(255,255,255,.88);white-space:nowrap;letter-spacing:0.27px;left:7.4px;">4:00 pm – 5:30 pm</div><div style="position:absolute;top:4.1px;line-height:13px;font-size:10.2px;color:rgba(255,255,255,.9);white-space:nowrap;letter-spacing:0.5px;right:30.6px;">$245.00</div><div style="position:absolute;left:186.3px;top:42.8px;font-size:6.600px;line-height:9px;font-weight:700;color:rgba(255,255,255,.92);letter-spacing:.05px">CRM</div><svg style="position:absolute;left:169.6px;top:41.8px;" width="13" height="11" viewBox="0 0 13 11" fill="none"><path d="M.8.800h7.800v5.600H3.600L.8 8.600z" fill="rgba(255,255,255,.62)"/><path d="M10 3.200h1.700v6.200l-1.400-1.200H4.800V7.600" stroke="rgba(255,255,255,.62)" stroke-width="1.100" fill="none"/></svg><svg style="position:absolute;left:154.8px;top:41.5px;" width="11" height="11" viewBox="0 0 10 10" fill="none"><path d="M1.200 1.200c-.600.600-.500 2.900 1.900 5.300s4.700 2.500 5.300 1.900l.5-.6c.2-.2.200-.5 0-.7L7.600 6c-.2-.2-.5-.2-.7 0l-.6.600c-.7-.2-2.400-1.900-2.600-2.600l.6-.6c.2-.2.2-.5 0-.7L3.200 1.400c-.2-.2-.5-.2-.7 0z" fill="rgba(255,255,255,.62)"/></svg></div><svg style="position:absolute;left:829.5px;top:609.4px;" width="14.4" height="14.4" viewBox="0 0 14.4 14.4" fill="none"><circle cx="7.200" cy="7.200" r="6.400" fill="#7cab1c" stroke="#f4ffd6" stroke-width="1.400"/><path d="M4.300 7.400l2 2 3.600-3.800" stroke="#fff" stroke-width="1.300" stroke-linecap="round" stroke-linejoin="round"/></svg>
<div style="position:absolute;left:840.2px;top:405.7px;width:232.8px;height:58.0px;background:#9fd000;border-radius:4.5px;overflow:hidden"><div style="position:absolute;left:208.4px;top:5.300px;width:1px;height:47.0px;background:rgba(255,255,255,.3)"></div><svg style="position:absolute;left:216.7px;top:26.3px;" width="9" height="6" viewBox="0 0 9 6" fill="none"><path d="M1 1l3.500 3.500L8 1" stroke="rgba(255,255,255,.9)" stroke-width="1.150" stroke-linecap="round" stroke-linejoin="round"/></svg><div style="position:absolute;top:2.7px;line-height:15px;font-size:11.5px;color:#fff;white-space:nowrap;letter-spacing:0.35px;left:7.4px;-webkit-text-stroke:.2px #fff;">Oliver Branson<svg style="display:inline-block;margin-left:3.2px;position:relative;top:-0.3px" width="8.600" height="8.600" viewBox="0 0 8 8"><path d="M1.200.3h3.900l2.600 2.500v3.900a1 1 0 0 1-1 1H1.200a1 1 0 0 1-1-1v-5.400a1 1 0 0 1 1-1z" fill="rgba(255,255,255,.62)"/><path d="M2 3.600h3.600M2 5.300h3.600" stroke="rgba(0,0,0,.13)" stroke-width=".7"/></svg></div><div style="position:absolute;top:18.2px;line-height:13px;font-size:10.2px;color:rgba(255,255,255,.88);white-space:nowrap;letter-spacing:0.27px;left:7.4px;">11:00 am – 12:30 pm</div><div style="position:absolute;top:4.1px;line-height:13px;font-size:10.2px;color:rgba(255,255,255,.9);white-space:nowrap;letter-spacing:0.5px;right:30.6px;">$250.00</div><div style="position:absolute;left:186.3px;top:42.8px;font-size:6.600px;line-height:9px;font-weight:700;color:rgba(255,255,255,.92);letter-spacing:.05px">CRM</div><svg style="position:absolute;left:169.6px;top:41.8px;" width="13" height="11" viewBox="0 0 13 11" fill="none"><path d="M.8.800h7.800v5.600H3.600L.8 8.600z" fill="rgba(255,255,255,.62)"/><path d="M10 3.200h1.700v6.200l-1.400-1.200H4.800V7.600" stroke="rgba(255,255,255,.62)" stroke-width="1.100" fill="none"/></svg><svg style="position:absolute;left:154.8px;top:41.5px;" width="11" height="11" viewBox="0 0 10 10" fill="none"><path d="M1.200 1.200c-.600.600-.500 2.900 1.900 5.300s4.700 2.500 5.300 1.900l.5-.6c.2-.2.200-.5 0-.7L7.600 6c-.2-.2-.5-.2-.7 0l-.6.600c-.7-.2-2.400-1.900-2.600-2.600l.6-.6c.2-.2.2-.5 0-.7L3.200 1.400c-.2-.2-.5-.2-.7 0z" fill="rgba(255,255,255,.62)"/></svg></div>
<div style="position:absolute;left:840.2px;top:490.4px;width:232.8px;height:36.8px;background:#2fc5f5;border-radius:4.5px;overflow:hidden"><div style="position:absolute;left:208.4px;top:5.300px;width:1px;height:25.8px;background:rgba(255,255,255,.3)"></div><svg style="position:absolute;left:216.7px;top:15.7px;" width="9" height="6" viewBox="0 0 9 6" fill="none"><path d="M1 1l3.500 3.500L8 1" stroke="rgba(255,255,255,.9)" stroke-width="1.150" stroke-linecap="round" stroke-linejoin="round"/></svg><div style="position:absolute;top:2.7px;line-height:15px;font-size:11.5px;color:#fff;white-space:nowrap;letter-spacing:0.35px;left:7.4px;-webkit-text-stroke:.2px #fff;">Josephine Langford<svg style="display:inline-block;margin-left:3.2px;position:relative;top:-0.3px" width="8.600" height="8.600" viewBox="0 0 8 8"><path d="M1.200.3h3.900l2.600 2.500v3.900a1 1 0 0 1-1 1H1.200a1 1 0 0 1-1-1v-5.400a1 1 0 0 1 1-1z" fill="rgba(255,255,255,.62)"/><path d="M2 3.600h3.600M2 5.300h3.600" stroke="rgba(0,0,0,.13)" stroke-width=".7"/></svg></div><div style="position:absolute;top:18.2px;line-height:13px;font-size:10.2px;color:rgba(255,255,255,.88);white-space:nowrap;letter-spacing:0.27px;left:7.4px;">1:00 pm – 2:00 pm</div><div style="position:absolute;top:4.1px;line-height:13px;font-size:10.2px;color:rgba(255,255,255,.9);white-space:nowrap;letter-spacing:0.5px;right:30.6px;">$200.00</div><div style="position:absolute;left:186.3px;top:21.6px;font-size:6.600px;line-height:9px;font-weight:700;color:rgba(255,255,255,.92);letter-spacing:.05px">CRM</div><svg style="position:absolute;left:169.6px;top:20.6px;" width="13" height="11" viewBox="0 0 13 11" fill="none"><path d="M.8.800h7.800v5.600H3.600L.8 8.600z" fill="rgba(255,255,255,.62)"/><path d="M10 3.200h1.700v6.200l-1.400-1.200H4.800V7.600" stroke="rgba(255,255,255,.62)" stroke-width="1.100" fill="none"/></svg><svg style="position:absolute;left:154.8px;top:20.3px;" width="11" height="11" viewBox="0 0 10 10" fill="none"><path d="M1.200 1.200c-.600.600-.500 2.900 1.900 5.300s4.700 2.500 5.300 1.900l.5-.6c.2-.2.200-.5 0-.7L7.600 6c-.2-.2-.5-.2-.7 0l-.6.600c-.7-.2-2.400-1.900-2.600-2.600l.6-.6c.2-.2.2-.5 0-.7L3.200 1.400c-.2-.2-.5-.2-.7 0z" fill="rgba(255,255,255,.62)"/></svg></div>
<div style="position:absolute;left:840.2px;top:532.7px;width:232.8px;height:36.8px;background:#9fd000;border-radius:4.5px;overflow:hidden"><div style="position:absolute;left:208.4px;top:5.300px;width:1px;height:25.8px;background:rgba(255,255,255,.3)"></div><svg style="position:absolute;left:216.7px;top:15.7px;" width="9" height="6" viewBox="0 0 9 6" fill="none"><path d="M1 1l3.500 3.500L8 1" stroke="rgba(255,255,255,.9)" stroke-width="1.150" stroke-linecap="round" stroke-linejoin="round"/></svg><div style="position:absolute;top:2.7px;line-height:15px;font-size:11.5px;color:#fff;white-space:nowrap;letter-spacing:0.35px;left:7.4px;-webkit-text-stroke:.2px #fff;">Dafna Smith<svg style="display:inline-block;margin-left:3.2px;position:relative;top:-0.3px" width="8.600" height="8.600" viewBox="0 0 8 8"><path d="M1.200.3h3.900l2.600 2.500v3.900a1 1 0 0 1-1 1H1.200a1 1 0 0 1-1-1v-5.400a1 1 0 0 1 1-1z" fill="rgba(255,255,255,.62)"/><path d="M2 3.600h3.600M2 5.300h3.600" stroke="rgba(0,0,0,.13)" stroke-width=".7"/></svg></div><div style="position:absolute;top:18.2px;line-height:13px;font-size:10.2px;color:rgba(255,255,255,.88);white-space:nowrap;letter-spacing:0.27px;left:7.4px;">2:00 pm – 3:00 pm</div><div style="position:absolute;top:4.1px;line-height:13px;font-size:10.2px;color:rgba(255,255,255,.9);white-space:nowrap;letter-spacing:0.5px;right:30.6px;">$110.00</div><div style="position:absolute;left:186.3px;top:21.6px;font-size:6.600px;line-height:9px;font-weight:700;color:rgba(255,255,255,.92);letter-spacing:.05px">CRM</div><svg style="position:absolute;left:169.6px;top:20.6px;" width="13" height="11" viewBox="0 0 13 11" fill="none"><path d="M.8.800h7.800v5.600H3.600L.8 8.600z" fill="rgba(255,255,255,.62)"/><path d="M10 3.200h1.700v6.200l-1.400-1.200H4.800V7.600" stroke="rgba(255,255,255,.62)" stroke-width="1.100" fill="none"/></svg><svg style="position:absolute;left:154.8px;top:20.3px;" width="11" height="11" viewBox="0 0 10 10" fill="none"><path d="M1.200 1.200c-.600.600-.500 2.900 1.900 5.300s4.700 2.500 5.300 1.900l.5-.6c.2-.2.200-.5 0-.7L7.600 6c-.2-.2-.5-.2-.7 0l-.6.600c-.7-.2-2.400-1.900-2.600-2.600l.6-.6c.2-.2.2-.5 0-.7L3.200 1.400c-.2-.2-.5-.2-.7 0z" fill="rgba(255,255,255,.62)"/></svg></div>
<div style="position:absolute;left:840.2px;top:628.0px;width:232.8px;height:58.0px;background:#9fd000;border-radius:4.5px;overflow:hidden"><div style="position:absolute;left:208.4px;top:5.300px;width:1px;height:47.0px;background:rgba(255,255,255,.3)"></div><svg style="position:absolute;left:216.7px;top:26.3px;" width="9" height="6" viewBox="0 0 9 6" fill="none"><path d="M1 1l3.500 3.500L8 1" stroke="rgba(255,255,255,.9)" stroke-width="1.150" stroke-linecap="round" stroke-linejoin="round"/></svg><div style="position:absolute;top:2.7px;line-height:15px;font-size:11.5px;color:#fff;white-space:nowrap;letter-spacing:0.35px;left:7.4px;-webkit-text-stroke:.2px #fff;">Stella Morgan<svg style="display:inline-block;margin-left:3.2px;position:relative;top:-0.3px" width="8.600" height="8.600" viewBox="0 0 8 8"><path d="M1.200.3h3.900l2.600 2.500v3.900a1 1 0 0 1-1 1H1.200a1 1 0 0 1-1-1v-5.400a1 1 0 0 1 1-1z" fill="rgba(255,255,255,.62)"/><path d="M2 3.600h3.600M2 5.300h3.600" stroke="rgba(0,0,0,.13)" stroke-width=".7"/></svg></div><div style="position:absolute;top:18.2px;line-height:13px;font-size:10.2px;color:rgba(255,255,255,.88);white-space:nowrap;letter-spacing:0.27px;left:7.4px;">4:15 pm – 5:45 pm</div><div style="position:absolute;top:4.1px;line-height:13px;font-size:10.2px;color:rgba(255,255,255,.9);white-space:nowrap;letter-spacing:0.5px;right:30.6px;">$320.00</div><div style="position:absolute;left:186.3px;top:42.8px;font-size:6.600px;line-height:9px;font-weight:700;color:rgba(255,255,255,.92);letter-spacing:.05px">CRM</div><svg style="position:absolute;left:169.6px;top:41.8px;" width="13" height="11" viewBox="0 0 13 11" fill="none"><path d="M.8.800h7.800v5.600H3.600L.8 8.600z" fill="rgba(255,255,255,.62)"/><path d="M10 3.200h1.700v6.200l-1.400-1.200H4.800V7.600" stroke="rgba(255,255,255,.62)" stroke-width="1.100" fill="none"/></svg><svg style="position:absolute;left:154.8px;top:41.5px;" width="11" height="11" viewBox="0 0 10 10" fill="none"><path d="M1.200 1.200c-.600.600-.500 2.900 1.900 5.300s4.700 2.500 5.300 1.900l.5-.6c.2-.2.200-.5 0-.7L7.600 6c-.2-.2-.5-.2-.7 0l-.6.600c-.7-.2-2.400-1.900-2.600-2.600l.6-.6c.2-.2.2-.5 0-.7L3.200 1.400c-.2-.2-.5-.2-.7 0z" fill="rgba(255,255,255,.62)"/></svg></div>
<div style="position:absolute;left:840.2px;top:702.0px;width:232.8px;height:36.8px;background:#2fc5f5;border-radius:4.5px;overflow:hidden"><div style="position:absolute;left:208.4px;top:5.300px;width:1px;height:25.8px;background:rgba(255,255,255,.3)"></div><svg style="position:absolute;left:216.7px;top:15.7px;" width="9" height="6" viewBox="0 0 9 6" fill="none"><path d="M1 1l3.500 3.500L8 1" stroke="rgba(255,255,255,.9)" stroke-width="1.150" stroke-linecap="round" stroke-linejoin="round"/></svg><div style="position:absolute;top:2.7px;line-height:15px;font-size:11.5px;color:#fff;white-space:nowrap;letter-spacing:0.35px;left:7.4px;-webkit-text-stroke:.2px #fff;">Ava Brooks<svg style="display:inline-block;margin-left:3.2px;position:relative;top:-0.3px" width="8.600" height="8.600" viewBox="0 0 8 8"><path d="M1.200.3h3.900l2.600 2.500v3.900a1 1 0 0 1-1 1H1.200a1 1 0 0 1-1-1v-5.400a1 1 0 0 1 1-1z" fill="rgba(255,255,255,.62)"/><path d="M2 3.600h3.600M2 5.300h3.600" stroke="rgba(0,0,0,.13)" stroke-width=".7"/></svg></div><div style="position:absolute;top:18.2px;line-height:13px;font-size:10.2px;color:rgba(255,255,255,.88);white-space:nowrap;letter-spacing:0.27px;left:7.4px;">6:00 pm – 7:00 pm</div><div style="position:absolute;top:4.1px;line-height:13px;font-size:10.2px;color:rgba(255,255,255,.9);white-space:nowrap;letter-spacing:0.5px;right:30.6px;">$90.00</div><div style="position:absolute;left:186.3px;top:21.6px;font-size:6.600px;line-height:9px;font-weight:700;color:rgba(255,255,255,.92);letter-spacing:.05px">CRM</div><svg style="position:absolute;left:169.6px;top:20.6px;" width="13" height="11" viewBox="0 0 13 11" fill="none"><path d="M.8.800h7.800v5.600H3.600L.8 8.600z" fill="rgba(255,255,255,.62)"/><path d="M10 3.200h1.700v6.200l-1.400-1.200H4.800V7.600" stroke="rgba(255,255,255,.62)" stroke-width="1.100" fill="none"/></svg><svg style="position:absolute;left:154.8px;top:20.3px;" width="11" height="11" viewBox="0 0 10 10" fill="none"><path d="M1.200 1.200c-.600.600-.500 2.900 1.900 5.300s4.700 2.500 5.300 1.900l.5-.6c.2-.2.200-.5 0-.7L7.600 6c-.2-.2-.5-.2-.7 0l-.6.600c-.7-.2-2.400-1.900-2.600-2.600l.6-.6c.2-.2.2-.5 0-.7L3.200 1.400c-.2-.2-.5-.2-.7 0z" fill="rgba(255,255,255,.62)"/></svg></div>
<div style="position:absolute;left:840.2px;top:744.4px;width:114.2px;height:36.8px;background:#cfa70c;border-radius:4.5px;overflow:hidden"><div style="position:absolute;left:89.8px;top:5.300px;width:1px;height:25.8px;background:rgba(255,255,255,.3)"></div><svg style="position:absolute;left:98.1px;top:15.7px;" width="9" height="6" viewBox="0 0 9 6" fill="none"><path d="M1 1l3.500 3.500L8 1" stroke="rgba(255,255,255,.9)" stroke-width="1.150" stroke-linecap="round" stroke-linejoin="round"/></svg><div style="position:absolute;top:2.7px;line-height:15px;font-size:11.5px;color:#fff;white-space:nowrap;letter-spacing:0.35px;left:7.4px;-webkit-text-stroke:.2px #fff;">Robert H...<svg style="display:inline-block;margin-left:3.2px;position:relative;top:-0.3px" width="8.600" height="8.600" viewBox="0 0 8 8"><path d="M1.200.3h3.900l2.600 2.500v3.900a1 1 0 0 1-1 1H1.200a1 1 0 0 1-1-1v-5.400a1 1 0 0 1 1-1z" fill="rgba(255,255,255,.62)"/><path d="M2 3.600h3.600M2 5.300h3.600" stroke="rgba(0,0,0,.13)" stroke-width=".7"/></svg></div><div style="position:absolute;top:18.2px;line-height:13px;font-size:10.2px;color:rgba(255,255,255,.88);white-space:nowrap;letter-spacing:0.12px;left:7.4px;width:81.30000000000004px;overflow:hidden;">7:00 pm – 8:00 pm</div></div>
<div style="position:absolute;left:959.0px;top:744.4px;width:114.0px;height:36.8px;background:#cfa70c;border-radius:4.5px;overflow:hidden"><div style="position:absolute;left:89.6px;top:5.300px;width:1px;height:25.8px;background:rgba(255,255,255,.3)"></div><svg style="position:absolute;left:97.9px;top:15.7px;" width="9" height="6" viewBox="0 0 9 6" fill="none"><path d="M1 1l3.500 3.500L8 1" stroke="rgba(255,255,255,.9)" stroke-width="1.150" stroke-linecap="round" stroke-linejoin="round"/></svg><div style="position:absolute;top:2.7px;line-height:15px;font-size:11.5px;color:#fff;white-space:nowrap;letter-spacing:0.35px;left:7.4px;-webkit-text-stroke:.2px #fff;">Kate Faxon<svg style="display:inline-block;margin-left:3.2px;position:relative;top:-0.3px" width="8.600" height="8.600" viewBox="0 0 8 8"><path d="M1.200.3h3.900l2.600 2.500v3.900a1 1 0 0 1-1 1H1.200a1 1 0 0 1-1-1v-5.400a1 1 0 0 1 1-1z" fill="rgba(255,255,255,.62)"/><path d="M2 3.600h3.600M2 5.300h3.600" stroke="rgba(0,0,0,.13)" stroke-width=".7"/></svg></div><div style="position:absolute;top:18.2px;line-height:13px;font-size:10.2px;color:rgba(255,255,255,.88);white-space:nowrap;letter-spacing:0.12px;left:7.4px;width:81.1px;overflow:hidden;">7:00 pm – 8:00 pm</div></div>
<div style="position:absolute;left:1075.7px;top:171.5px;width:207.5px;height:552.0px;background:#fafbfb;border-radius:0px;"></div>
<div style="position:absolute;left:1048.0px;top:172.0px;width:28.0px;height:552.0px;background:linear-gradient(90deg,rgba(255,255,255,0) 0%,rgba(255,255,255,.06) 30%,rgba(255,255,255,.3) 36%,rgba(255,255,255,.55) 62%,rgba(255,255,255,.88) 86%,rgba(255,255,255,.92) 100%);border-radius:0px;"></div>
<div style="position:absolute;left:1075.7px;top:723.0px;width:207.5px;height:20.0px;background:linear-gradient(180deg,#fafbfb,#fff);border-radius:0px;"></div>
<svg style="position:absolute;left:1066.8px;top:397.7px;opacity:.38;" width="14.4" height="14.4" viewBox="0 0 14.4 14.4" fill="none"><circle cx="7.200" cy="7.200" r="6.400" fill="#7cab1c" stroke="#f4ffd6" stroke-width="1.400"/><path d="M4.300 7.400l2 2 3.600-3.800" stroke="#fff" stroke-width="1.300" stroke-linecap="round" stroke-linejoin="round"/></svg>
<svg style="position:absolute;left:1066.8px;top:524.7px;opacity:.38;" width="14.4" height="14.4" viewBox="0 0 14.4 14.4" fill="none"><circle cx="7.200" cy="7.200" r="6.400" fill="#7cab1c" stroke="#f4ffd6" stroke-width="1.400"/><path d="M4.300 7.400l2 2 3.600-3.800" stroke="#fff" stroke-width="1.300" stroke-linecap="round" stroke-linejoin="round"/></svg>
<svg style="position:absolute;left:1066.8px;top:620.0px;opacity:.38;" width="14.4" height="14.4" viewBox="0 0 14.4 14.4" fill="none"><circle cx="7.200" cy="7.200" r="6.400" fill="#7cab1c" stroke="#f4ffd6" stroke-width="1.400"/><path d="M4.300 7.400l2 2 3.600-3.800" stroke="#fff" stroke-width="1.300" stroke-linecap="round" stroke-linejoin="round"/></svg>
<div style="position:absolute;left:1031.2px;top:432.4px;width:31.2px;height:31.2px;background:rgba(95,115,45,.27);border-radius:16px;"></div>
<svg style="position:absolute;left:1043.3px;top:442.0px;" width="8" height="12" viewBox="0 0 8 12" fill="none"><path d="M1.500 1.200L6 6l-4.500 4.800" stroke="rgba(255,255,255,.85)" stroke-width="1.200" stroke-linecap="round" stroke-linejoin="round"/></svg>
<div style="position:absolute;left:1071.0px;top:180.0px;width:199.5px;height:212.7px;background:#fff;border-radius:10px;box-shadow:0 0 0 1px rgba(0,0,0,.025),0 1px 3px rgba(0,0,0,.04);"></div>
<svg style="position:absolute;left:1081.5px;top:189.5px;" width="7" height="9" viewBox="0 0 7 9" fill="none"><path d="M5.500 1L1.500 4.500l4 3.500" stroke="#a8adb4" stroke-width="1.100" stroke-linecap="round" stroke-linejoin="round"/></svg>
<svg style="position:absolute;left:1199.5px;top:189.5px;" width="7" height="9" viewBox="0 0 7 9" fill="none"><path d="M1.500 1l4 3.500-4 3.500" stroke="#a8adb4" stroke-width="1.100" stroke-linecap="round" stroke-linejoin="round"/></svg>
<div style="position:absolute;top:186.7px;line-height:15px;font-size:11.5px;color:#525c69;white-space:nowrap;left:1044.0px;width:200px;text-align:center;">July 2025</div>
<svg style="position:absolute;left:1251.3px;top:188.7px;" width="9" height="11" viewBox="0 0 9 11" fill="none"><path d="M1.500 1l3 3 3-3M1.500 10l3-3 3 3" stroke="#b3b8be" stroke-width="1" stroke-linecap="round" stroke-linejoin="round"/></svg>
<div style="position:absolute;top:208.7px;line-height:12px;font-size:9.4px;color:#a8adb4;white-space:nowrap;left:991.2px;width:200px;text-align:center;">Sun</div>
<div style="position:absolute;top:208.7px;line-height:12px;font-size:9.4px;color:#a8adb4;white-space:nowrap;left:1017.6px;width:200px;text-align:center;">Mon</div>
<div style="position:absolute;top:208.7px;line-height:12px;font-size:9.4px;color:#a8adb4;white-space:nowrap;left:1044.0px;width:200px;text-align:center;">Tue</div>
<div style="position:absolute;top:208.7px;line-height:12px;font-size:9.4px;color:#a8adb4;white-space:nowrap;left:1070.4px;width:200px;text-align:center;">Wed</div>
<div style="position:absolute;top:208.7px;line-height:12px;font-size:9.4px;color:#a8adb4;white-space:nowrap;left:1096.8px;width:200px;text-align:center;">Thu</div>
<div style="position:absolute;top:208.7px;line-height:12px;font-size:9.4px;color:#a8adb4;white-space:nowrap;left:1123.2px;width:200px;text-align:center;">Fri</div>
<div style="position:absolute;top:208.7px;line-height:12px;font-size:9.4px;color:#a8adb4;white-space:nowrap;left:1149.6px;width:200px;text-align:center;">Sat</div>
<div style="position:absolute;top:231.2px;line-height:15px;font-size:11.5px;color:#a8adb4;white-space:nowrap;left:991.2px;width:200px;text-align:center;">29</div>
<div style="position:absolute;top:231.2px;line-height:15px;font-size:11.5px;color:#a8adb4;white-space:nowrap;left:1017.6px;width:200px;text-align:center;">30</div>
<div style="position:absolute;left:1131.3px;top:225.7px;width:25.4px;height:25.4px;background:#f4f9e0;border-radius:13px;"></div>
<div style="position:absolute;top:231.2px;line-height:15px;font-size:11.5px;color:#2f343a;white-space:nowrap;left:1044.0px;width:200px;text-align:center;">1</div>
<div style="position:absolute;left:1157.7px;top:225.7px;width:25.4px;height:25.4px;background:#f4f9e0;border-radius:13px;"></div>
<div style="position:absolute;top:231.2px;line-height:15px;font-size:11.5px;color:#2f343a;white-space:nowrap;left:1070.4px;width:200px;text-align:center;">2</div>
<div style="position:absolute;left:1184.1px;top:225.7px;width:25.4px;height:25.4px;background:#f4f9e0;border-radius:13px;"></div>
<div style="position:absolute;top:231.2px;line-height:15px;font-size:11.5px;color:#2f343a;white-space:nowrap;left:1096.8px;width:200px;text-align:center;">3</div>
<div style="position:absolute;left:1210.5px;top:225.7px;width:25.4px;height:25.4px;background:#f4f9e0;border-radius:13px;"></div>
<div style="position:absolute;top:231.2px;line-height:15px;font-size:11.5px;color:#2f343a;white-space:nowrap;left:1123.2px;width:200px;text-align:center;">4</div>
<div style="position:absolute;top:231.2px;line-height:15px;font-size:11.5px;color:#e8594a;white-space:nowrap;left:1149.6px;width:200px;text-align:center;">5</div>
<div style="position:absolute;top:258.2px;line-height:15px;font-size:11.5px;color:#e8594a;white-space:nowrap;left:991.2px;width:200px;text-align:center;">6</div>
<div style="position:absolute;left:1104.9px;top:252.7px;width:25.4px;height:25.4px;background:#f4f9e0;border-radius:13px;"></div>
<div style="position:absolute;top:258.2px;line-height:15px;font-size:11.5px;color:#2f343a;white-space:nowrap;left:1017.6px;width:200px;text-align:center;">7</div>
<div style="position:absolute;left:1131.3px;top:252.7px;width:25.4px;height:25.4px;background:#f4f9e0;border-radius:13px;"></div>
<div style="position:absolute;top:258.2px;line-height:15px;font-size:11.5px;color:#2f343a;white-space:nowrap;left:1044.0px;width:200px;text-align:center;">8</div>
<div style="position:absolute;left:1157.7px;top:252.7px;width:25.4px;height:25.4px;background:#f4f9e0;border-radius:13px;"></div>
<div style="position:absolute;top:258.2px;line-height:15px;font-size:11.5px;color:#2f343a;white-space:nowrap;left:1070.4px;width:200px;text-align:center;">9</div>
<div style="position:absolute;left:1183.8px;top:252.4px;width:26.0px;height:26.0px;background:#25b5ef;border-radius:13px;"></div>
<div style="position:absolute;top:258.2px;line-height:15px;font-size:11.5px;color:#fff;white-space:nowrap;left:1096.8px;width:200px;text-align:center;">10</div>
<div style="position:absolute;left:1210.5px;top:252.7px;width:25.4px;height:25.4px;background:#f4f9e0;border-radius:13px;"></div>
<div style="position:absolute;top:258.2px;line-height:15px;font-size:11.5px;color:#2f343a;white-space:nowrap;left:1123.2px;width:200px;text-align:center;">11</div>
<div style="position:absolute;top:258.2px;line-height:15px;font-size:11.5px;color:#e8594a;white-space:nowrap;left:1149.6px;width:200px;text-align:center;">12</div>
<div style="position:absolute;top:285.2px;line-height:15px;font-size:11.5px;color:#e8594a;white-space:nowrap;left:991.2px;width:200px;text-align:center;">13</div>
<div style="position:absolute;left:1104.9px;top:279.7px;width:25.4px;height:25.4px;background:#f4f9e0;border-radius:13px;"></div>
<div style="position:absolute;top:285.2px;line-height:15px;font-size:11.5px;color:#2f343a;white-space:nowrap;left:1017.6px;width:200px;text-align:center;">14</div>
<div style="position:absolute;left:1131.3px;top:279.7px;width:25.4px;height:25.4px;background:#f4f9e0;border-radius:13px;"></div>
<div style="position:absolute;top:285.2px;line-height:15px;font-size:11.5px;color:#2f343a;white-space:nowrap;left:1044.0px;width:200px;text-align:center;">15</div>
<div style="position:absolute;left:1157.7px;top:279.7px;width:25.4px;height:25.4px;background:#f4f9e0;border-radius:13px;"></div>
<div style="position:absolute;top:285.2px;line-height:15px;font-size:11.5px;color:#2f343a;white-space:nowrap;left:1070.4px;width:200px;text-align:center;">16</div>
<div style="position:absolute;left:1184.1px;top:279.7px;width:25.4px;height:25.4px;background:#f4f9e0;border-radius:13px;"></div>
<div style="position:absolute;top:285.2px;line-height:15px;font-size:11.5px;color:#2f343a;white-space:nowrap;left:1096.8px;width:200px;text-align:center;">17</div>
<div style="position:absolute;left:1210.5px;top:279.7px;width:25.4px;height:25.4px;background:#f4f9e0;border-radius:13px;"></div>
<div style="position:absolute;top:285.2px;line-height:15px;font-size:11.5px;color:#2f343a;white-space:nowrap;left:1123.2px;width:200px;text-align:center;">18</div>
<div style="position:absolute;top:285.2px;line-height:15px;font-size:11.5px;color:#e8594a;white-space:nowrap;left:1149.6px;width:200px;text-align:center;">19</div>
<div style="position:absolute;top:312.2px;line-height:15px;font-size:11.5px;color:#e8594a;white-space:nowrap;left:991.2px;width:200px;text-align:center;">20</div>
<div style="position:absolute;left:1104.9px;top:306.7px;width:25.4px;height:25.4px;background:#f4f9e0;border-radius:13px;"></div>
<div style="position:absolute;top:312.2px;line-height:15px;font-size:11.5px;color:#2f343a;white-space:nowrap;left:1017.6px;width:200px;text-align:center;">21</div>
<div style="position:absolute;left:1131.3px;top:306.7px;width:25.4px;height:25.4px;background:#f4f9e0;border-radius:13px;"></div>
<div style="position:absolute;top:312.2px;line-height:15px;font-size:11.5px;color:#2f343a;white-space:nowrap;left:1044.0px;width:200px;text-align:center;">22</div>
<div style="position:absolute;left:1157.7px;top:306.7px;width:25.4px;height:25.4px;background:#f4f9e0;border-radius:13px;"></div>
<div style="position:absolute;top:312.2px;line-height:15px;font-size:11.5px;color:#2f343a;white-space:nowrap;left:1070.4px;width:200px;text-align:center;">23</div>
<div style="position:absolute;left:1184.1px;top:306.7px;width:25.4px;height:25.4px;background:#f4f9e0;border-radius:13px;"></div>
<div style="position:absolute;top:312.2px;line-height:15px;font-size:11.5px;color:#2f343a;white-space:nowrap;left:1096.8px;width:200px;text-align:center;">24</div>
<div style="position:absolute;left:1210.5px;top:306.7px;width:25.4px;height:25.4px;background:#f4f9e0;border-radius:13px;"></div>
<div style="position:absolute;top:312.2px;line-height:15px;font-size:11.5px;color:#2f343a;white-space:nowrap;left:1123.2px;width:200px;text-align:center;">25</div>
<div style="position:absolute;top:312.2px;line-height:15px;font-size:11.5px;color:#e8594a;white-space:nowrap;left:1149.6px;width:200px;text-align:center;">26</div>
<div style="position:absolute;top:339.2px;line-height:15px;font-size:11.5px;color:#e8594a;white-space:nowrap;left:991.2px;width:200px;text-align:center;">27</div>
<div style="position:absolute;left:1104.9px;top:333.7px;width:25.4px;height:25.4px;background:#f4f9e0;border-radius:13px;"></div>
<div style="position:absolute;top:339.2px;line-height:15px;font-size:11.5px;color:#2f343a;white-space:nowrap;left:1017.6px;width:200px;text-align:center;">28</div>
<div style="position:absolute;left:1131.3px;top:333.7px;width:25.4px;height:25.4px;background:#f4f9e0;border-radius:13px;"></div>
<div style="position:absolute;top:339.2px;line-height:15px;font-size:11.5px;color:#2f343a;white-space:nowrap;left:1044.0px;width:200px;text-align:center;">29</div>
<div style="position:absolute;left:1157.7px;top:333.7px;width:25.4px;height:25.4px;background:#f4f9e0;border-radius:13px;"></div>
<div style="position:absolute;top:339.2px;line-height:15px;font-size:11.5px;color:#2f343a;white-space:nowrap;left:1070.4px;width:200px;text-align:center;">30</div>
<div style="position:absolute;left:1184.1px;top:333.7px;width:25.4px;height:25.4px;background:#f4f9e0;border-radius:13px;"></div>
<div style="position:absolute;top:339.2px;line-height:15px;font-size:11.5px;color:#2f343a;white-space:nowrap;left:1096.8px;width:200px;text-align:center;">31</div>
<div style="position:absolute;top:339.2px;line-height:15px;font-size:11.5px;color:#a8adb4;white-space:nowrap;left:1123.2px;width:200px;text-align:center;">1</div>
<div style="position:absolute;top:339.2px;line-height:15px;font-size:11.5px;color:#a8adb4;white-space:nowrap;left:1149.6px;width:200px;text-align:center;">2</div>
<div style="position:absolute;top:366.2px;line-height:15px;font-size:11.5px;color:#a8adb4;white-space:nowrap;left:991.2px;width:200px;text-align:center;">3</div>
<div style="position:absolute;top:366.2px;line-height:15px;font-size:11.5px;color:#a8adb4;white-space:nowrap;left:1017.6px;width:200px;text-align:center;">4</div>
<div style="position:absolute;top:366.2px;line-height:15px;font-size:11.5px;color:#a8adb4;white-space:nowrap;left:1044.0px;width:200px;text-align:center;">5</div>
<div style="position:absolute;top:366.2px;line-height:15px;font-size:11.5px;color:#a8adb4;white-space:nowrap;left:1070.4px;width:200px;text-align:center;">6</div>
<div style="position:absolute;top:366.2px;line-height:15px;font-size:11.5px;color:#a8adb4;white-space:nowrap;left:1096.8px;width:200px;text-align:center;">7</div>
<div style="position:absolute;top:366.2px;line-height:15px;font-size:11.5px;color:#a8adb4;white-space:nowrap;left:1123.2px;width:200px;text-align:center;">8</div>
<div style="position:absolute;top:366.2px;line-height:15px;font-size:11.5px;color:#a8adb4;white-space:nowrap;left:1149.6px;width:200px;text-align:center;">9</div>
<div style="position:absolute;left:1071.0px;top:408.8px;width:199.5px;height:311.7px;background:#fff;border-radius:10px;box-shadow:0 0 0 1px rgba(0,0,0,.03),0 1px 3px rgba(0,0,0,.04);"></div>
<div style="position:absolute;top:417.5px;line-height:15px;font-size:11.5px;color:#3c434b;white-space:nowrap;left:1083.8px;">Waiting list</div>
<div style="position:absolute;top:417.5px;line-height:15px;font-size:11.5px;color:#a8adb4;white-space:nowrap;left:1145.0px;">2</div>
<div style="position:absolute;left:1225.2px;top:417.7px;width:18.5px;height:15.3px;background:#e2f4fd;border-radius:8px;"></div>
<svg style="position:absolute;left:1230.9px;top:421.9px;" width="7" height="7" viewBox="0 0 7 7" fill="none"><path d="M3.500 1v5M1 3.500h5" stroke="#1e9fd6" stroke-width="1.100" stroke-linecap="round"/></svg>
<svg style="position:absolute;left:1250.0px;top:419.0px;" width="9" height="11" viewBox="0 0 9 11" fill="none"><path d="M1.500 1l3 3 3-3M1.500 10l3-3 3 3" stroke="#b3b8be" stroke-width="1" stroke-linecap="round" stroke-linejoin="round"/></svg>
<div style="position:absolute;left:1080.0px;top:441.0px;width:181.5px;height:1.0px;background:#e8eaec;border-radius:0px;"></div>
<div style="position:absolute;top:449.2px;line-height:14px;font-size:10.7px;color:#959ba3;white-space:nowrap;letter-spacing:0.05px;left:1079.7px;">Added this month</div>
<svg style="position:absolute;left:1249.5px;top:454.5px;" width="11" height="3" viewBox="0 0 11 3" fill="none"><circle cx="1.500" cy="1.500" r="1" fill="#b3b8be"/><circle cx="5.500" cy="1.500" r="1" fill="#b3b8be"/><circle cx="9.500" cy="1.500" r="1" fill="#b3b8be"/></svg>
<div style="position:absolute;left:1080.700px;top:464.6px;width:178.3px;height:37.2px;background:#86b8cc;border-radius:5px;overflow:hidden">
<div style="position:absolute;left:154.0px;top:5.300px;width:1px;height:26.2px;background:rgba(255,255,255,.25)"></div>
<svg style="position:absolute;left:162.0px;top:16.6px;" width="9" height="6" viewBox="0 0 9 6" fill="none"><path d="M1 1l3.500 3.500L8 1" stroke="rgba(255,255,255,.9)" stroke-width="1.150" stroke-linecap="round" stroke-linejoin="round"/></svg>
<div style="position:absolute;top:2.5px;line-height:15px;font-size:11.8px;color:#fff;white-space:nowrap;letter-spacing:0.1px;left:7.2px;-webkit-text-stroke:.2px #fff;">Steven Lee<svg style="display:inline-block;margin-left:3.2px;position:relative;top:-0.3px" width="8.600" height="8.600" viewBox="0 0 8 8"><path d="M1.200.3h3.900l2.600 2.500v3.900a1 1 0 0 1-1 1H1.200a1 1 0 0 1-1-1v-5.400a1 1 0 0 1 1-1z" fill="rgba(255,255,255,.62)"/><path d="M2 3.600h3.600M2 5.300h3.600" stroke="rgba(0,0,0,.13)" stroke-width=".7"/></svg></div>
<div style="position:absolute;left:131.6px;top:22.2px;font-size:6.600px;line-height:9px;font-weight:700;color:rgba(255,255,255,.5);letter-spacing:.05px">CRM</div><svg style="position:absolute;left:114.9px;top:21.2px;" width="13" height="11" viewBox="0 0 13 11" fill="none"><path d="M.8.800h7.800v5.600H3.600L.8 8.600z" fill="rgba(255,255,255,.45)"/><path d="M10 3.200h1.700v6.200l-1.400-1.200H4.800V7.600" stroke="rgba(255,255,255,.45)" stroke-width="1.100" fill="none"/></svg><svg style="position:absolute;left:100.1px;top:20.9px;" width="11" height="11" viewBox="0 0 10 10" fill="none"><path d="M1.200 1.200c-.600.600-.500 2.900 1.900 5.300s4.700 2.500 5.300 1.900l.5-.6c.2-.2.200-.5 0-.7L7.600 6c-.2-.2-.5-.2-.7 0l-.6.600c-.7-.2-2.400-1.900-2.600-2.600l.6-.6c.2-.2.2-.5 0-.7L3.200 1.400c-.2-.2-.5-.2-.7 0z" fill="rgba(255,255,255,.45)"/></svg>
</div>
<div style="position:absolute;left:1080.700px;top:507px;width:178.3px;height:37.2px;background:#86b8cc;border-radius:5px;overflow:hidden">
<div style="position:absolute;left:154.0px;top:5.300px;width:1px;height:26.2px;background:rgba(255,255,255,.25)"></div>
<svg style="position:absolute;left:162.0px;top:16.6px;" width="9" height="6" viewBox="0 0 9 6" fill="none"><path d="M1 1l3.500 3.500L8 1" stroke="rgba(255,255,255,.9)" stroke-width="1.150" stroke-linecap="round" stroke-linejoin="round"/></svg>
<div style="position:absolute;top:2.5px;line-height:15px;font-size:11.8px;color:#fff;white-space:nowrap;letter-spacing:0.1px;left:7.2px;-webkit-text-stroke:.2px #fff;">Maria Harrison<svg style="display:inline-block;margin-left:3.2px;position:relative;top:-0.3px" width="8.600" height="8.600" viewBox="0 0 8 8"><path d="M1.200.3h3.900l2.600 2.500v3.900a1 1 0 0 1-1 1H1.200a1 1 0 0 1-1-1v-5.400a1 1 0 0 1 1-1z" fill="rgba(255,255,255,.62)"/><path d="M2 3.600h3.600M2 5.300h3.600" stroke="rgba(0,0,0,.13)" stroke-width=".7"/></svg></div>
<div style="position:absolute;left:131.6px;top:22.2px;font-size:6.600px;line-height:9px;font-weight:700;color:rgba(255,255,255,.5);letter-spacing:.05px">CRM</div><svg style="position:absolute;left:114.9px;top:21.2px;" width="13" height="11" viewBox="0 0 13 11" fill="none"><path d="M.8.800h7.800v5.600H3.600L.8 8.600z" fill="rgba(255,255,255,.45)"/><path d="M10 3.200h1.700v6.200l-1.400-1.200H4.800V7.600" stroke="rgba(255,255,255,.45)" stroke-width="1.100" fill="none"/></svg><svg style="position:absolute;left:100.1px;top:20.9px;" width="11" height="11" viewBox="0 0 10 10" fill="none"><path d="M1.200 1.200c-.600.600-.500 2.900 1.900 5.300s4.700 2.500 5.300 1.900l.5-.6c.2-.2.200-.5 0-.7L7.600 6c-.2-.2-.5-.2-.7 0l-.6.600c-.7-.2-2.400-1.900-2.600-2.600l.6-.6c.2-.2.2-.5 0-.7L3.200 1.400c-.2-.2-.5-.2-.7 0z" fill="rgba(255,255,255,.45)"/></svg>
</div>
<div style="position:absolute;left:1279.0px;top:397.0px;width:3.0px;height:397.0px;background:#e4e6e9;border-radius:2px;"></div>
<div style="position:absolute;left:139.1px;top:824.2px;width:157.5px;height:34.8px;background:#fff;border-radius:8px;"></div>
<svg style="position:absolute;left:150.5px;top:834.8px;" width="14" height="14" viewBox="0 0 14 14" fill="none"><g stroke="#a4a9b0" stroke-width="1.350" stroke-linecap="round" stroke-linejoin="round" fill="none"><path d="M8 6l5-5M8.800 1H13v4.200M6 8l-5 5M1 8.800V13h4.200"/></g></svg>
<div style="position:absolute;left:173.2px;top:824.2px;width:1.0px;height:34.8px;background:#eceef0;border-radius:0px;"></div>
<div style="position:absolute;top:835.6px;line-height:13px;font-size:10px;color:#a0a5ab;white-space:nowrap;letter-spacing:0.25px;left:179.4px;border-bottom:1px dotted #b9bec4;line-height:13px;top:835.500px;">Show all</div>
<div style="position:absolute;left:224.0px;top:831.0px;width:1.0px;height:21.0px;background:#eceef0;border-radius:0px;"></div>
<div style="position:absolute;left:232.7px;top:841.2px;width:7.5px;height:1.1px;background:#a0a5ab;border-radius:0px;"></div>
<div style="position:absolute;top:835.6px;line-height:13px;font-size:10.2px;color:#a0a5ab;white-space:nowrap;letter-spacing:0.2px;left:245.4px;">100 %</div>
<svg style="position:absolute;left:280.0px;top:838.0px;" width="8" height="8" viewBox="0 0 8 8" fill="none"><path d="M4 .8v6.400M.8 4h6.400" stroke="#d3d6da" stroke-width="1.100" stroke-linecap="round"/></svg>
</div></body></html>
